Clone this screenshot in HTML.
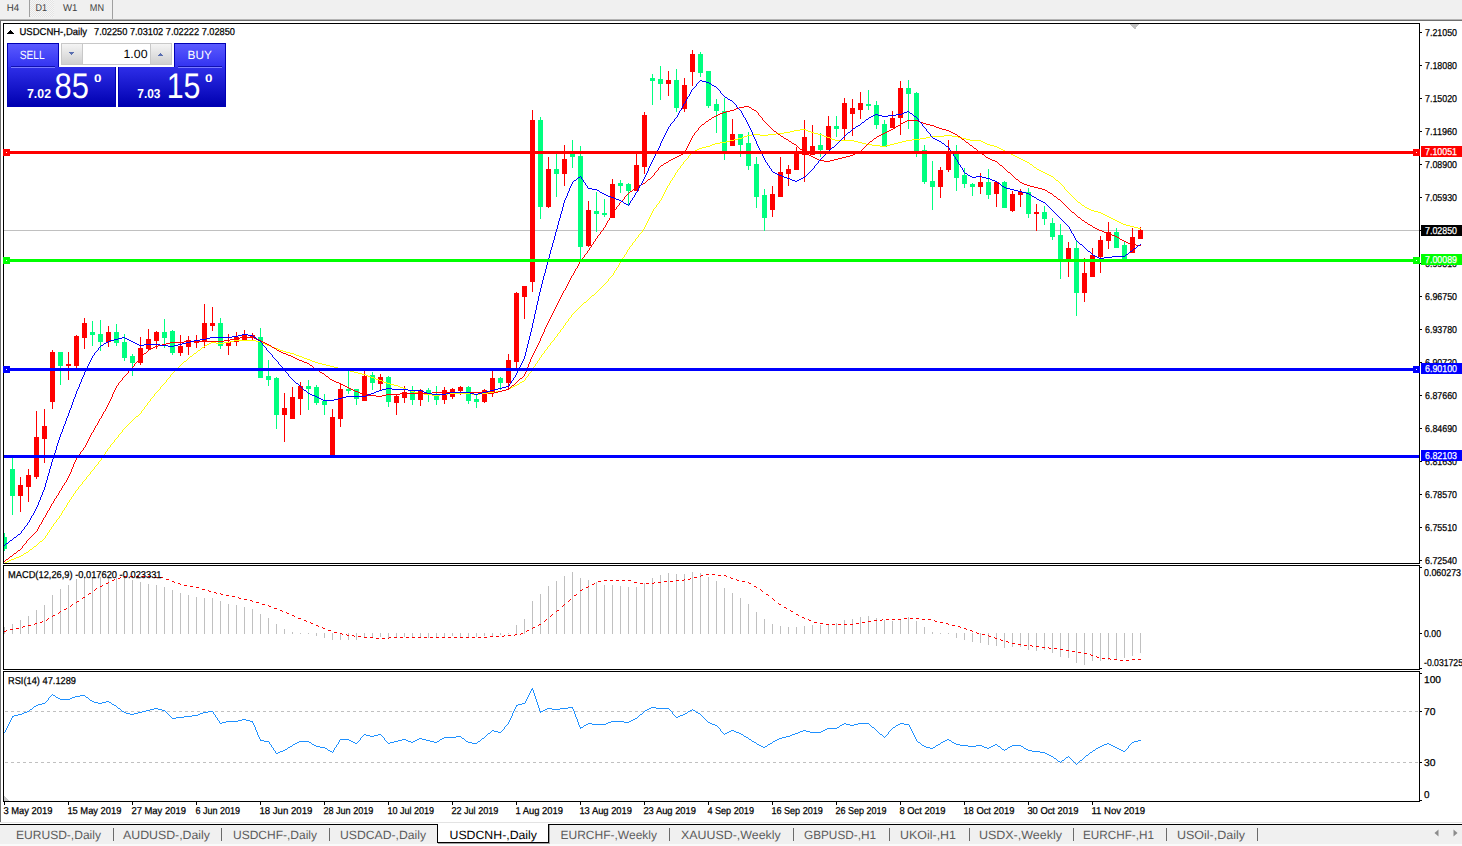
<!DOCTYPE html>
<html><head><meta charset="utf-8"><style>
html,body{margin:0;padding:0;background:#fff;}
svg{display:block;font-family:"Liberation Sans",sans-serif;text-rendering:geometricPrecision;}
</style></head><body>
<svg width="1462" height="846" viewBox="0 0 1462 846" shape-rendering="crispEdges">
<rect x="0" y="0" width="1462" height="846" fill="#ffffff" />
<rect x="0" y="0" width="1462" height="19" fill="#f0f0f0" />
<rect x="0" y="19" width="1462" height="1" fill="#b4b4b4" />
<rect x="0" y="20" width="1462" height="1" fill="#6e6e6e" />
<defs><pattern id="hatch" width="2" height="2" patternUnits="userSpaceOnUse"><rect width="2" height="2" fill="#f6f6f6"/><rect width="1" height="1" fill="#e4e4e4"/><rect x="1" y="1" width="1" height="1" fill="#e4e4e4"/></pattern></defs>
<rect x="30" y="0" width="24" height="17" fill="url(#hatch)" />
<rect x="29" y="0" width="1" height="17" fill="#a0a0a0" />
<rect x="112" y="0" width="1" height="19" fill="#a0a0a0" />
<text x="6.7" y="11" font-size="10" fill="#404040" textLength="12.4" lengthAdjust="spacingAndGlyphs" >H4</text>
<text x="35.6" y="11" font-size="10" fill="#404040" textLength="11.5" lengthAdjust="spacingAndGlyphs" >D1</text>
<text x="63" y="11" font-size="10" fill="#404040" textLength="14.4" lengthAdjust="spacingAndGlyphs" >W1</text>
<text x="89.8" y="11" font-size="10" fill="#404040" textLength="14.2" lengthAdjust="spacingAndGlyphs" >MN</text>
<rect x="0" y="21" width="1" height="801" fill="#6e6e6e" />
<rect x="3" y="23" width="1417" height="1" fill="#000" />
<rect x="3" y="563" width="1417" height="1" fill="#000" />
<rect x="3" y="23" width="1" height="541" fill="#000" />
<rect x="1419" y="23" width="1" height="541" fill="#000" />
<rect x="3" y="565" width="1417" height="1" fill="#000" />
<rect x="3" y="669" width="1417" height="1" fill="#000" />
<rect x="3" y="565" width="1" height="105" fill="#000" />
<rect x="1419" y="565" width="1" height="105" fill="#000" />
<rect x="3" y="671" width="1417" height="1" fill="#000" />
<rect x="3" y="801" width="1417" height="1" fill="#000" />
<rect x="3" y="671" width="1" height="131" fill="#000" />
<rect x="1419" y="671" width="1" height="131" fill="#000" />
<clipPath id="cmain"><rect x="4" y="24" width="1415" height="539"/></clipPath>
<clipPath id="cmacd"><rect x="4" y="566" width="1415" height="103"/></clipPath>
<clipPath id="crsi"><rect x="4" y="672" width="1415" height="129"/></clipPath>
<g clip-path="url(#cmain)">
<rect x="4" y="230" width="1415" height="1" fill="#c0c0c0" />
<rect x="4" y="533" width="1" height="18" fill="#00ff7f" />
<rect x="2" y="537" width="5" height="12" fill="#00ff7f" />
<rect x="12" y="458" width="1" height="57" fill="#00ff7f" />
<rect x="10" y="469" width="5" height="27" fill="#00ff7f" />
<rect x="20" y="477" width="1" height="35" fill="#ff0000" />
<rect x="18" y="485" width="5" height="11" fill="#ff0000" />
<rect x="28" y="469" width="1" height="33" fill="#ff0000" />
<rect x="26" y="475" width="5" height="12" fill="#ff0000" />
<rect x="36" y="411" width="1" height="68" fill="#ff0000" />
<rect x="34" y="437" width="5" height="40" fill="#ff0000" />
<rect x="44" y="409" width="1" height="54" fill="#ff0000" />
<rect x="42" y="426" width="5" height="13" fill="#ff0000" />
<rect x="52" y="350" width="1" height="59" fill="#ff0000" />
<rect x="50" y="352" width="5" height="50" fill="#ff0000" />
<rect x="60" y="352" width="1" height="33" fill="#00ff7f" />
<rect x="58" y="352" width="5" height="14" fill="#00ff7f" />
<rect x="68" y="352" width="1" height="28" fill="#ff0000" />
<rect x="66" y="364" width="5" height="2" fill="#ff0000" />
<rect x="76" y="335" width="1" height="33" fill="#ff0000" />
<rect x="74" y="336" width="5" height="30" fill="#ff0000" />
<rect x="84" y="318" width="1" height="31" fill="#ff0000" />
<rect x="82" y="323" width="5" height="15" fill="#ff0000" />
<rect x="92" y="321" width="1" height="25" fill="#00ff7f" />
<rect x="90" y="332" width="5" height="3" fill="#00ff7f" />
<rect x="100" y="320" width="1" height="31" fill="#00ff7f" />
<rect x="98" y="334" width="5" height="8" fill="#00ff7f" />
<rect x="108" y="326" width="1" height="21" fill="#ff0000" />
<rect x="106" y="332" width="5" height="10" fill="#ff0000" />
<rect x="116" y="324" width="1" height="22" fill="#00ff7f" />
<rect x="114" y="332" width="5" height="11" fill="#00ff7f" />
<rect x="124" y="334" width="1" height="27" fill="#00ff7f" />
<rect x="122" y="342" width="5" height="16" fill="#00ff7f" />
<rect x="132" y="354" width="1" height="22" fill="#00ff7f" />
<rect x="130" y="356" width="5" height="7" fill="#00ff7f" />
<rect x="140" y="337" width="1" height="28" fill="#ff0000" />
<rect x="138" y="348" width="5" height="15" fill="#ff0000" />
<rect x="148" y="329" width="1" height="21" fill="#ff0000" />
<rect x="146" y="339" width="5" height="10" fill="#ff0000" />
<rect x="156" y="331" width="1" height="18" fill="#ff0000" />
<rect x="154" y="332" width="5" height="9" fill="#ff0000" />
<rect x="164" y="319" width="1" height="29" fill="#00ff7f" />
<rect x="162" y="332" width="5" height="6" fill="#00ff7f" />
<rect x="172" y="330" width="1" height="25" fill="#00ff7f" />
<rect x="170" y="331" width="5" height="22" fill="#00ff7f" />
<rect x="180" y="335" width="1" height="21" fill="#ff0000" />
<rect x="178" y="346" width="5" height="7" fill="#ff0000" />
<rect x="188" y="336" width="1" height="19" fill="#ff0000" />
<rect x="186" y="340" width="5" height="7" fill="#ff0000" />
<rect x="196" y="335" width="1" height="13" fill="#ff0000" />
<rect x="194" y="340" width="5" height="3" fill="#ff0000" />
<rect x="204" y="304" width="1" height="44" fill="#ff0000" />
<rect x="202" y="323" width="5" height="18" fill="#ff0000" />
<rect x="212" y="307" width="1" height="24" fill="#ff0000" />
<rect x="210" y="323" width="5" height="3" fill="#ff0000" />
<rect x="220" y="318" width="1" height="31" fill="#00ff7f" />
<rect x="218" y="323" width="5" height="23" fill="#00ff7f" />
<rect x="228" y="334" width="1" height="21" fill="#ff0000" />
<rect x="226" y="342" width="5" height="4" fill="#ff0000" />
<rect x="236" y="332" width="1" height="14" fill="#ff0000" />
<rect x="234" y="337" width="5" height="5" fill="#ff0000" />
<rect x="244" y="330" width="1" height="11" fill="#ff0000" />
<rect x="242" y="334" width="5" height="6" fill="#ff0000" />
<rect x="252" y="333" width="1" height="8" fill="#ff0000" />
<rect x="250" y="335" width="5" height="3" fill="#ff0000" />
<rect x="260" y="328" width="1" height="50" fill="#00ff7f" />
<rect x="258" y="337" width="5" height="41" fill="#00ff7f" />
<rect x="268" y="360" width="1" height="26" fill="#00ff7f" />
<rect x="266" y="376" width="5" height="4" fill="#00ff7f" />
<rect x="276" y="377" width="1" height="52" fill="#00ff7f" />
<rect x="274" y="378" width="5" height="37" fill="#00ff7f" />
<rect x="284" y="393" width="1" height="49" fill="#ff0000" />
<rect x="282" y="408" width="5" height="7" fill="#ff0000" />
<rect x="292" y="387" width="1" height="32" fill="#ff0000" />
<rect x="290" y="397" width="5" height="22" fill="#ff0000" />
<rect x="300" y="382" width="1" height="33" fill="#ff0000" />
<rect x="298" y="386" width="5" height="13" fill="#ff0000" />
<rect x="308" y="380" width="1" height="30" fill="#00ff7f" />
<rect x="306" y="386" width="5" height="3" fill="#00ff7f" />
<rect x="316" y="385" width="1" height="20" fill="#00ff7f" />
<rect x="314" y="387" width="5" height="16" fill="#00ff7f" />
<rect x="324" y="394" width="1" height="21" fill="#00ff7f" />
<rect x="322" y="401" width="5" height="4" fill="#00ff7f" />
<rect x="332" y="409" width="1" height="47" fill="#ff0000" />
<rect x="330" y="417" width="5" height="39" fill="#ff0000" />
<rect x="340" y="384" width="1" height="43" fill="#ff0000" />
<rect x="338" y="389" width="5" height="30" fill="#ff0000" />
<rect x="348" y="371" width="1" height="23" fill="#00ff7f" />
<rect x="346" y="389" width="5" height="2" fill="#00ff7f" />
<rect x="356" y="389" width="1" height="16" fill="#00ff7f" />
<rect x="354" y="389" width="5" height="10" fill="#00ff7f" />
<rect x="364" y="371" width="1" height="30" fill="#ff0000" />
<rect x="362" y="376" width="5" height="25" fill="#ff0000" />
<rect x="372" y="372" width="1" height="18" fill="#00ff7f" />
<rect x="370" y="375" width="5" height="8" fill="#00ff7f" />
<rect x="380" y="374" width="1" height="17" fill="#ff0000" />
<rect x="378" y="377" width="5" height="7" fill="#ff0000" />
<rect x="388" y="376" width="1" height="31" fill="#00ff7f" />
<rect x="386" y="377" width="5" height="25" fill="#00ff7f" />
<rect x="396" y="395" width="1" height="20" fill="#ff0000" />
<rect x="394" y="396" width="5" height="7" fill="#ff0000" />
<rect x="404" y="386" width="1" height="17" fill="#ff0000" />
<rect x="402" y="392" width="5" height="6" fill="#ff0000" />
<rect x="412" y="386" width="1" height="19" fill="#00ff7f" />
<rect x="410" y="391" width="5" height="9" fill="#00ff7f" />
<rect x="420" y="389" width="1" height="17" fill="#ff0000" />
<rect x="418" y="390" width="5" height="10" fill="#ff0000" />
<rect x="428" y="388" width="1" height="14" fill="#00ff7f" />
<rect x="426" y="390" width="5" height="5" fill="#00ff7f" />
<rect x="436" y="386" width="1" height="19" fill="#00ff7f" />
<rect x="434" y="394" width="5" height="6" fill="#00ff7f" />
<rect x="444" y="387" width="1" height="17" fill="#ff0000" />
<rect x="442" y="390" width="5" height="10" fill="#ff0000" />
<rect x="452" y="388" width="1" height="11" fill="#ff0000" />
<rect x="450" y="389" width="5" height="8" fill="#ff0000" />
<rect x="460" y="386" width="1" height="9" fill="#ff0000" />
<rect x="458" y="387" width="5" height="4" fill="#ff0000" />
<rect x="468" y="386" width="1" height="18" fill="#00ff7f" />
<rect x="466" y="387" width="5" height="14" fill="#00ff7f" />
<rect x="476" y="395" width="1" height="13" fill="#00ff7f" />
<rect x="474" y="399" width="5" height="3" fill="#00ff7f" />
<rect x="484" y="389" width="1" height="14" fill="#ff0000" />
<rect x="482" y="390" width="5" height="12" fill="#ff0000" />
<rect x="492" y="371" width="1" height="26" fill="#ff0000" />
<rect x="490" y="378" width="5" height="15" fill="#ff0000" />
<rect x="500" y="377" width="1" height="13" fill="#00ff7f" />
<rect x="498" y="378" width="5" height="5" fill="#00ff7f" />
<rect x="508" y="354" width="1" height="35" fill="#ff0000" />
<rect x="506" y="360" width="5" height="23" fill="#ff0000" />
<rect x="516" y="292" width="1" height="78" fill="#ff0000" />
<rect x="514" y="293" width="5" height="69" fill="#ff0000" />
<rect x="524" y="286" width="1" height="33" fill="#ff0000" />
<rect x="522" y="286" width="5" height="11" fill="#ff0000" />
<rect x="532" y="110" width="1" height="182" fill="#ff0000" />
<rect x="530" y="120" width="5" height="162" fill="#ff0000" />
<rect x="540" y="117" width="1" height="102" fill="#00ff7f" />
<rect x="538" y="120" width="5" height="87" fill="#00ff7f" />
<rect x="548" y="157" width="1" height="51" fill="#ff0000" />
<rect x="546" y="169" width="5" height="38" fill="#ff0000" />
<rect x="556" y="154" width="1" height="43" fill="#00ff7f" />
<rect x="554" y="169" width="5" height="5" fill="#00ff7f" />
<rect x="564" y="145" width="1" height="41" fill="#ff0000" />
<rect x="562" y="159" width="5" height="15" fill="#ff0000" />
<rect x="572" y="140" width="1" height="28" fill="#00ff7f" />
<rect x="570" y="154" width="5" height="3" fill="#00ff7f" />
<rect x="580" y="146" width="1" height="114" fill="#00ff7f" />
<rect x="578" y="156" width="5" height="91" fill="#00ff7f" />
<rect x="588" y="201" width="1" height="46" fill="#ff0000" />
<rect x="586" y="210" width="5" height="36" fill="#ff0000" />
<rect x="596" y="192" width="1" height="40" fill="#00ff7f" />
<rect x="594" y="211" width="5" height="3" fill="#00ff7f" />
<rect x="604" y="199" width="1" height="18" fill="#00ff7f" />
<rect x="602" y="213" width="5" height="2" fill="#00ff7f" />
<rect x="612" y="179" width="1" height="39" fill="#ff0000" />
<rect x="610" y="184" width="5" height="34" fill="#ff0000" />
<rect x="620" y="180" width="1" height="13" fill="#00ff7f" />
<rect x="618" y="183" width="5" height="3" fill="#00ff7f" />
<rect x="628" y="183" width="1" height="23" fill="#00ff7f" />
<rect x="626" y="184" width="5" height="7" fill="#00ff7f" />
<rect x="636" y="154" width="1" height="37" fill="#ff0000" />
<rect x="634" y="165" width="5" height="26" fill="#ff0000" />
<rect x="644" y="112" width="1" height="62" fill="#ff0000" />
<rect x="642" y="115" width="5" height="52" fill="#ff0000" />
<rect x="652" y="74" width="1" height="31" fill="#00ff7f" />
<rect x="650" y="78" width="5" height="3" fill="#00ff7f" />
<rect x="660" y="66" width="1" height="34" fill="#00ff7f" />
<rect x="658" y="79" width="5" height="5" fill="#00ff7f" />
<rect x="668" y="71" width="1" height="25" fill="#ff0000" />
<rect x="666" y="80" width="5" height="4" fill="#ff0000" />
<rect x="676" y="69" width="1" height="43" fill="#00ff7f" />
<rect x="674" y="80" width="5" height="28" fill="#00ff7f" />
<rect x="684" y="78" width="1" height="34" fill="#ff0000" />
<rect x="682" y="85" width="5" height="24" fill="#ff0000" />
<rect x="692" y="50" width="1" height="36" fill="#ff0000" />
<rect x="690" y="54" width="5" height="18" fill="#ff0000" />
<rect x="700" y="52" width="1" height="25" fill="#00ff7f" />
<rect x="698" y="54" width="5" height="19" fill="#00ff7f" />
<rect x="708" y="71" width="1" height="37" fill="#00ff7f" />
<rect x="706" y="71" width="5" height="35" fill="#00ff7f" />
<rect x="716" y="99" width="1" height="34" fill="#00ff7f" />
<rect x="714" y="104" width="5" height="7" fill="#00ff7f" />
<rect x="724" y="98" width="1" height="62" fill="#00ff7f" />
<rect x="722" y="111" width="5" height="41" fill="#00ff7f" />
<rect x="732" y="119" width="1" height="27" fill="#ff0000" />
<rect x="730" y="134" width="5" height="12" fill="#ff0000" />
<rect x="740" y="134" width="1" height="23" fill="#00ff7f" />
<rect x="738" y="134" width="5" height="11" fill="#00ff7f" />
<rect x="748" y="132" width="1" height="38" fill="#00ff7f" />
<rect x="746" y="143" width="5" height="23" fill="#00ff7f" />
<rect x="756" y="157" width="1" height="51" fill="#00ff7f" />
<rect x="754" y="164" width="5" height="33" fill="#00ff7f" />
<rect x="764" y="189" width="1" height="42" fill="#00ff7f" />
<rect x="762" y="195" width="5" height="23" fill="#00ff7f" />
<rect x="772" y="186" width="1" height="31" fill="#ff0000" />
<rect x="770" y="194" width="5" height="16" fill="#ff0000" />
<rect x="780" y="157" width="1" height="40" fill="#ff0000" />
<rect x="778" y="172" width="5" height="25" fill="#ff0000" />
<rect x="788" y="165" width="1" height="21" fill="#ff0000" />
<rect x="786" y="169" width="5" height="5" fill="#ff0000" />
<rect x="796" y="147" width="1" height="23" fill="#ff0000" />
<rect x="794" y="153" width="5" height="17" fill="#ff0000" />
<rect x="804" y="120" width="1" height="62" fill="#ff0000" />
<rect x="802" y="137" width="5" height="18" fill="#ff0000" />
<rect x="812" y="125" width="1" height="30" fill="#ff0000" />
<rect x="810" y="146" width="5" height="9" fill="#ff0000" />
<rect x="820" y="133" width="1" height="24" fill="#00ff7f" />
<rect x="818" y="145" width="5" height="5" fill="#00ff7f" />
<rect x="828" y="116" width="1" height="34" fill="#ff0000" />
<rect x="826" y="126" width="5" height="24" fill="#ff0000" />
<rect x="836" y="116" width="1" height="21" fill="#00ff7f" />
<rect x="834" y="126" width="5" height="3" fill="#00ff7f" />
<rect x="844" y="98" width="1" height="43" fill="#ff0000" />
<rect x="842" y="103" width="5" height="26" fill="#ff0000" />
<rect x="852" y="99" width="1" height="37" fill="#ff0000" />
<rect x="850" y="108" width="5" height="6" fill="#ff0000" />
<rect x="860" y="92" width="1" height="27" fill="#ff0000" />
<rect x="858" y="103" width="5" height="7" fill="#ff0000" />
<rect x="868" y="90" width="1" height="20" fill="#00ff7f" />
<rect x="866" y="104" width="5" height="2" fill="#00ff7f" />
<rect x="876" y="101" width="1" height="28" fill="#00ff7f" />
<rect x="874" y="105" width="5" height="20" fill="#00ff7f" />
<rect x="884" y="120" width="1" height="27" fill="#00ff7f" />
<rect x="882" y="124" width="5" height="23" fill="#00ff7f" />
<rect x="892" y="111" width="1" height="17" fill="#ff0000" />
<rect x="890" y="118" width="5" height="10" fill="#ff0000" />
<rect x="900" y="81" width="1" height="54" fill="#ff0000" />
<rect x="898" y="88" width="5" height="30" fill="#ff0000" />
<rect x="908" y="80" width="1" height="49" fill="#00ff7f" />
<rect x="906" y="88" width="5" height="6" fill="#00ff7f" />
<rect x="916" y="92" width="1" height="65" fill="#00ff7f" />
<rect x="914" y="93" width="5" height="58" fill="#00ff7f" />
<rect x="924" y="145" width="1" height="39" fill="#00ff7f" />
<rect x="922" y="150" width="5" height="32" fill="#00ff7f" />
<rect x="932" y="161" width="1" height="49" fill="#00ff7f" />
<rect x="930" y="181" width="5" height="6" fill="#00ff7f" />
<rect x="940" y="167" width="1" height="31" fill="#ff0000" />
<rect x="938" y="170" width="5" height="17" fill="#ff0000" />
<rect x="948" y="140" width="1" height="32" fill="#ff0000" />
<rect x="946" y="152" width="5" height="18" fill="#ff0000" />
<rect x="956" y="145" width="1" height="46" fill="#00ff7f" />
<rect x="954" y="152" width="5" height="26" fill="#00ff7f" />
<rect x="964" y="168" width="1" height="20" fill="#00ff7f" />
<rect x="962" y="175" width="5" height="9" fill="#00ff7f" />
<rect x="972" y="183" width="1" height="13" fill="#00ff7f" />
<rect x="970" y="184" width="5" height="3" fill="#00ff7f" />
<rect x="980" y="173" width="1" height="21" fill="#ff0000" />
<rect x="978" y="182" width="5" height="5" fill="#ff0000" />
<rect x="988" y="169" width="1" height="30" fill="#00ff7f" />
<rect x="986" y="182" width="5" height="13" fill="#00ff7f" />
<rect x="996" y="181" width="1" height="26" fill="#ff0000" />
<rect x="994" y="182" width="5" height="12" fill="#ff0000" />
<rect x="1004" y="181" width="1" height="27" fill="#00ff7f" />
<rect x="1002" y="182" width="5" height="26" fill="#00ff7f" />
<rect x="1012" y="191" width="1" height="21" fill="#ff0000" />
<rect x="1010" y="194" width="5" height="17" fill="#ff0000" />
<rect x="1020" y="189" width="1" height="18" fill="#ff0000" />
<rect x="1018" y="192" width="5" height="3" fill="#ff0000" />
<rect x="1028" y="188" width="1" height="30" fill="#00ff7f" />
<rect x="1026" y="192" width="5" height="22" fill="#00ff7f" />
<rect x="1036" y="204" width="1" height="27" fill="#ff0000" />
<rect x="1034" y="212" width="5" height="2" fill="#ff0000" />
<rect x="1044" y="206" width="1" height="19" fill="#00ff7f" />
<rect x="1042" y="212" width="5" height="7" fill="#00ff7f" />
<rect x="1052" y="218" width="1" height="22" fill="#00ff7f" />
<rect x="1050" y="223" width="5" height="14" fill="#00ff7f" />
<rect x="1060" y="224" width="1" height="55" fill="#00ff7f" />
<rect x="1058" y="235" width="5" height="25" fill="#00ff7f" />
<rect x="1068" y="242" width="1" height="35" fill="#ff0000" />
<rect x="1066" y="248" width="5" height="12" fill="#ff0000" />
<rect x="1076" y="241" width="1" height="75" fill="#00ff7f" />
<rect x="1074" y="248" width="5" height="45" fill="#00ff7f" />
<rect x="1084" y="258" width="1" height="44" fill="#ff0000" />
<rect x="1082" y="273" width="5" height="20" fill="#ff0000" />
<rect x="1092" y="248" width="1" height="29" fill="#ff0000" />
<rect x="1090" y="255" width="5" height="22" fill="#ff0000" />
<rect x="1100" y="236" width="1" height="37" fill="#ff0000" />
<rect x="1098" y="240" width="5" height="17" fill="#ff0000" />
<rect x="1108" y="222" width="1" height="27" fill="#ff0000" />
<rect x="1106" y="232" width="5" height="9" fill="#ff0000" />
<rect x="1116" y="228" width="1" height="20" fill="#00ff7f" />
<rect x="1114" y="232" width="5" height="16" fill="#00ff7f" />
<rect x="1124" y="242" width="1" height="18" fill="#00ff7f" />
<rect x="1122" y="245" width="5" height="15" fill="#00ff7f" />
<rect x="1132" y="228" width="1" height="25" fill="#ff0000" />
<rect x="1130" y="237" width="5" height="16" fill="#ff0000" />
<rect x="1140" y="227" width="1" height="12" fill="#ff0000" />
<rect x="1138" y="230" width="5" height="9" fill="#ff0000" />
<path d="M800 129h6v1h-6zM794 130h6v1h-6zM806 130h2v1h-2zM790 131h4v1h-4zM808 131h3v1h-3zM784 132h6v1h-6zM811 132h3v1h-3zM776 133h8v1h-8zM814 133h4v1h-4zM752 134h8v1h-8zM768 134h8v1h-8zM818 134h4v1h-4zM747 135h5v1h-5zM760 135h8v1h-8zM822 135h2v1h-2zM944 135h8v1h-8zM744 136h3v1h-3zM824 136h3v1h-3zM930 136h14v1h-14zM952 136h6v1h-6zM742 137h2v1h-2zM827 137h3v1h-3zM926 137h4v1h-4zM958 137h4v1h-4zM738 138h4v1h-4zM830 138h2v1h-2zM920 138h6v1h-6zM962 138h4v1h-4zM734 139h4v1h-4zM832 139h3v1h-3zM912 139h8v1h-8zM966 139h4v1h-4zM730 140h4v1h-4zM835 140h19v1h-19zM906 140h6v1h-6zM970 140h11v1h-11zM726 141h4v1h-4zM854 141h4v1h-4zM902 141h4v1h-4zM981 141h2v1h-2zM720 142h6v1h-6zM858 142h4v1h-4zM898 142h4v1h-4zM983 142h2v1h-2zM715 143h5v1h-5zM862 143h4v1h-4zM894 143h4v1h-4zM985 143h2v1h-2zM712 144h3v1h-3zM866 144h6v1h-6zM890 144h4v1h-4zM987 144h3v1h-3zM710 145h2v1h-2zM872 145h8v1h-8zM886 145h4v1h-4zM990 145h4v1h-4zM706 146h4v1h-4zM880 146h6v1h-6zM994 146h3v1h-3zM702 147h4v1h-4zM997 147h2v1h-2zM699 148h3v1h-3zM999 148h2v1h-2zM697 149h2v1h-2zM1001 149h2v1h-2zM695 150h2v1h-2zM1003 150h2v1h-2zM693 151h2v1h-2zM1005 151h2v1h-2zM692 152h1v1h-1zM1007 152h2v1h-2zM691 153h1v1h-1zM1009 153h2v1h-2zM690 154h1v1h-1zM1011 154h2v1h-2zM689 155h1v1h-1zM1013 155h2v1h-2zM688 156h1v1h-1zM1015 156h2v1h-2zM688 157h1v1h-1zM1017 157h2v1h-2zM687 158h1v1h-1zM1019 158h2v1h-2zM686 159h1v1h-1zM1021 159h2v1h-2zM685 160h1v1h-1zM1023 160h2v1h-2zM684 161h1v1h-1zM1025 161h2v1h-2zM683 162h1v1h-1zM1027 162h2v1h-2zM683 163h1v1h-1zM1029 163h1v1h-1zM682 164h1v1h-1zM1030 164h2v1h-2zM681 165h1v1h-1zM1032 165h1v1h-1zM680 166h1v1h-1zM1033 166h1v1h-1zM680 167h1v1h-1zM1034 167h2v1h-2zM679 168h1v1h-1zM1036 168h1v1h-1zM678 169h1v1h-1zM1037 169h2v1h-2zM677 170h1v1h-1zM1039 170h2v1h-2zM677 171h1v1h-1zM1041 171h2v1h-2zM676 172h1v1h-1zM1043 172h2v1h-2zM675 173h1v1h-1zM1045 173h2v1h-2zM675 174h1v1h-1zM1047 174h2v1h-2zM674 175h1v1h-1zM1049 175h2v1h-2zM674 176h1v1h-1zM1051 176h2v1h-2zM673 177h1v1h-1zM1053 177h1v1h-1zM672 178h1v1h-1zM1054 178h1v1h-1zM672 179h1v1h-1zM1055 179h1v1h-1zM671 180h1v1h-1zM1056 180h2v1h-2zM670 181h1v1h-1zM1058 181h1v1h-1zM670 182h1v1h-1zM1059 182h1v1h-1zM669 183h1v1h-1zM1060 183h1v1h-1zM669 184h1v1h-1zM1061 184h1v1h-1zM668 185h1v1h-1zM1062 185h1v1h-1zM667 186h1v1h-1zM1063 186h1v1h-1zM667 187h1v1h-1zM1064 187h1v1h-1zM666 188h1v1h-1zM1064 188h1v1h-1zM666 189h1v1h-1zM1065 189h1v1h-1zM665 190h1v1h-1zM1066 190h1v1h-1zM665 191h1v1h-1zM1067 191h1v1h-1zM664 192h1v1h-1zM1068 192h1v1h-1zM664 193h1v1h-1zM1069 193h1v1h-1zM663 194h1v1h-1zM1070 194h1v1h-1zM663 195h1v1h-1zM1071 195h1v1h-1zM662 196h1v1h-1zM1072 196h1v1h-1zM662 197h1v1h-1zM1073 197h1v1h-1zM661 198h1v1h-1zM1074 198h1v1h-1zM661 199h1v1h-1zM1075 199h1v1h-1zM660 200h1v1h-1zM1076 200h1v1h-1zM659 201h1v1h-1zM1077 201h1v1h-1zM659 202h1v1h-1zM1078 202h2v1h-2zM658 203h1v1h-1zM1080 203h1v1h-1zM657 204h1v1h-1zM1081 204h1v1h-1zM656 205h1v1h-1zM1082 205h2v1h-2zM656 206h1v1h-1zM1084 206h1v1h-1zM655 207h1v1h-1zM1085 207h2v1h-2zM654 208h1v1h-1zM1087 208h2v1h-2zM653 209h1v1h-1zM1089 209h2v1h-2zM653 210h1v1h-1zM1091 210h3v1h-3zM652 211h1v1h-1zM1094 211h4v1h-4zM652 212h1v1h-1zM1098 212h3v1h-3zM651 213h1v1h-1zM1101 213h2v1h-2zM651 214h1v1h-1zM1103 214h2v1h-2zM650 215h1v1h-1zM1105 215h2v1h-2zM650 216h1v1h-1zM1107 216h2v1h-2zM649 217h1v1h-1zM1109 217h2v1h-2zM649 218h1v1h-1zM1111 218h2v1h-2zM648 219h1v1h-1zM1113 219h2v1h-2zM648 220h1v1h-1zM1115 220h2v1h-2zM647 221h1v1h-1zM1117 221h2v1h-2zM647 222h1v1h-1zM1119 222h2v1h-2zM646 223h1v1h-1zM1121 223h2v1h-2zM646 224h1v1h-1zM1123 224h3v1h-3zM645 225h1v1h-1zM1126 225h4v1h-4zM645 226h1v1h-1zM1130 226h4v1h-4zM644 227h1v1h-1zM1134 227h4v1h-4zM644 228h1v1h-1zM1138 228h3v1h-3zM643 229h1v1h-1zM642 230h1v1h-1zM642 231h1v1h-1zM641 232h1v1h-1zM640 233h1v1h-1zM639 234h1v1h-1zM638 235h1v1h-1zM638 236h1v1h-1zM637 237h1v1h-1zM636 238h1v1h-1zM635 239h1v1h-1zM635 240h1v1h-1zM634 241h1v1h-1zM633 242h1v1h-1zM632 243h1v1h-1zM632 244h1v1h-1zM631 245h1v1h-1zM630 246h1v1h-1zM629 247h1v1h-1zM629 248h1v1h-1zM628 249h1v1h-1zM627 250h1v1h-1zM627 251h1v1h-1zM626 252h1v1h-1zM626 253h1v1h-1zM625 254h1v1h-1zM624 255h1v1h-1zM624 256h1v1h-1zM623 257h1v1h-1zM622 258h1v1h-1zM622 259h1v1h-1zM621 260h1v1h-1zM621 261h1v1h-1zM620 262h1v1h-1zM619 263h1v1h-1zM619 264h1v1h-1zM618 265h1v1h-1zM618 266h1v1h-1zM617 267h1v1h-1zM616 268h1v1h-1zM616 269h1v1h-1zM615 270h1v1h-1zM614 271h1v1h-1zM614 272h1v1h-1zM613 273h1v1h-1zM613 274h1v1h-1zM612 275h1v1h-1zM611 276h1v1h-1zM610 277h1v1h-1zM609 278h1v1h-1zM608 279h1v1h-1zM608 280h1v1h-1zM607 281h1v1h-1zM606 282h1v1h-1zM605 283h1v1h-1zM604 284h1v1h-1zM603 285h1v1h-1zM602 286h1v1h-1zM601 287h1v1h-1zM600 288h1v1h-1zM599 289h1v1h-1zM598 290h1v1h-1zM597 291h1v1h-1zM596 292h1v1h-1zM595 293h1v1h-1zM594 294h1v1h-1zM592 295h2v1h-2zM591 296h1v1h-1zM590 297h1v1h-1zM589 298h1v1h-1zM588 299h1v1h-1zM587 300h1v1h-1zM586 301h1v1h-1zM584 302h2v1h-2zM583 303h1v1h-1zM582 304h1v1h-1zM581 305h1v1h-1zM580 306h1v1h-1zM579 307h1v1h-1zM578 308h1v1h-1zM577 309h1v1h-1zM576 310h1v1h-1zM575 311h1v1h-1zM574 312h1v1h-1zM573 313h1v1h-1zM572 314h1v1h-1zM571 315h1v1h-1zM571 316h1v1h-1zM570 317h1v1h-1zM569 318h1v1h-1zM568 319h1v1h-1zM568 320h1v1h-1zM567 321h1v1h-1zM566 322h1v1h-1zM565 323h1v1h-1zM565 324h1v1h-1zM564 325h1v1h-1zM563 326h1v1h-1zM563 327h1v1h-1zM562 328h1v1h-1zM561 329h1v1h-1zM560 330h1v1h-1zM560 331h1v1h-1zM559 332h1v1h-1zM558 333h1v1h-1zM557 334h1v1h-1zM557 335h1v1h-1zM556 336h1v1h-1zM555 337h1v1h-1zM554 338h1v1h-1zM554 339h1v1h-1zM234 340h22v1h-22zM553 340h1v1h-1zM230 341h4v1h-4zM256 341h5v1h-5zM552 341h1v1h-1zM211 342h5v1h-5zM224 342h6v1h-6zM261 342h2v1h-2zM551 342h1v1h-1zM209 343h2v1h-2zM216 343h8v1h-8zM263 343h2v1h-2zM550 343h1v1h-1zM207 344h2v1h-2zM265 344h2v1h-2zM550 344h1v1h-1zM205 345h2v1h-2zM267 345h3v1h-3zM549 345h1v1h-1zM204 346h1v1h-1zM270 346h2v1h-2zM548 346h1v1h-1zM202 347h2v1h-2zM272 347h3v1h-3zM547 347h1v1h-1zM201 348h1v1h-1zM275 348h3v1h-3zM547 348h1v1h-1zM200 349h1v1h-1zM278 349h2v1h-2zM546 349h1v1h-1zM198 350h2v1h-2zM280 350h3v1h-3zM545 350h1v1h-1zM197 351h1v1h-1zM283 351h3v1h-3zM544 351h1v1h-1zM196 352h1v1h-1zM286 352h4v1h-4zM544 352h1v1h-1zM194 353h2v1h-2zM290 353h4v1h-4zM543 353h1v1h-1zM193 354h1v1h-1zM294 354h2v1h-2zM542 354h1v1h-1zM192 355h1v1h-1zM296 355h3v1h-3zM541 355h1v1h-1zM190 356h2v1h-2zM299 356h3v1h-3zM541 356h1v1h-1zM189 357h1v1h-1zM302 357h2v1h-2zM540 357h1v1h-1zM188 358h1v1h-1zM304 358h3v1h-3zM539 358h1v1h-1zM187 359h1v1h-1zM307 359h3v1h-3zM539 359h1v1h-1zM186 360h1v1h-1zM310 360h2v1h-2zM538 360h1v1h-1zM184 361h2v1h-2zM312 361h3v1h-3zM537 361h1v1h-1zM183 362h1v1h-1zM315 362h3v1h-3zM537 362h1v1h-1zM182 363h1v1h-1zM318 363h4v1h-4zM536 363h1v1h-1zM181 364h1v1h-1zM322 364h4v1h-4zM535 364h1v1h-1zM180 365h1v1h-1zM326 365h4v1h-4zM535 365h1v1h-1zM179 366h1v1h-1zM330 366h4v1h-4zM534 366h1v1h-1zM178 367h1v1h-1zM334 367h4v1h-4zM533 367h1v1h-1zM177 368h1v1h-1zM338 368h4v1h-4zM533 368h1v1h-1zM176 369h1v1h-1zM342 369h4v1h-4zM532 369h1v1h-1zM175 370h1v1h-1zM346 370h4v1h-4zM531 370h1v1h-1zM174 371h1v1h-1zM350 371h4v1h-4zM531 371h1v1h-1zM173 372h1v1h-1zM354 372h4v1h-4zM530 372h1v1h-1zM172 373h1v1h-1zM358 373h4v1h-4zM529 373h1v1h-1zM171 374h1v1h-1zM362 374h4v1h-4zM528 374h1v1h-1zM170 375h1v1h-1zM366 375h2v1h-2zM528 375h1v1h-1zM170 376h1v1h-1zM368 376h3v1h-3zM527 376h1v1h-1zM169 377h1v1h-1zM371 377h3v1h-3zM526 377h1v1h-1zM168 378h1v1h-1zM374 378h2v1h-2zM525 378h1v1h-1zM167 379h1v1h-1zM376 379h3v1h-3zM525 379h1v1h-1zM166 380h1v1h-1zM379 380h3v1h-3zM524 380h1v1h-1zM166 381h1v1h-1zM382 381h2v1h-2zM522 381h2v1h-2zM165 382h1v1h-1zM384 382h3v1h-3zM520 382h2v1h-2zM164 383h1v1h-1zM387 383h3v1h-3zM519 383h1v1h-1zM163 384h1v1h-1zM390 384h4v1h-4zM517 384h2v1h-2zM162 385h1v1h-1zM394 385h4v1h-4zM515 385h2v1h-2zM161 386h1v1h-1zM398 386h2v1h-2zM513 386h2v1h-2zM160 387h1v1h-1zM400 387h3v1h-3zM511 387h2v1h-2zM160 388h1v1h-1zM403 388h3v1h-3zM509 388h2v1h-2zM159 389h1v1h-1zM406 389h2v1h-2zM506 389h3v1h-3zM158 390h1v1h-1zM408 390h3v1h-3zM502 390h4v1h-4zM157 391h1v1h-1zM411 391h3v1h-3zM496 391h6v1h-6zM156 392h1v1h-1zM414 392h4v1h-4zM488 392h8v1h-8zM155 393h1v1h-1zM418 393h6v1h-6zM448 393h24v1h-24zM480 393h8v1h-8zM154 394h1v1h-1zM424 394h8v1h-8zM440 394h8v1h-8zM472 394h8v1h-8zM154 395h1v1h-1zM432 395h8v1h-8zM153 396h1v1h-1zM152 397h1v1h-1zM151 398h1v1h-1zM150 399h1v1h-1zM150 400h1v1h-1zM149 401h1v1h-1zM148 402h1v1h-1zM147 403h1v1h-1zM147 404h1v1h-1zM146 405h1v1h-1zM145 406h1v1h-1zM144 407h1v1h-1zM144 408h1v1h-1zM143 409h1v1h-1zM142 410h1v1h-1zM141 411h1v1h-1zM141 412h1v1h-1zM140 413h1v1h-1zM139 414h1v1h-1zM138 415h1v1h-1zM136 416h2v1h-2zM135 417h1v1h-1zM134 418h1v1h-1zM133 419h1v1h-1zM132 420h1v1h-1zM131 421h1v1h-1zM130 422h1v1h-1zM129 423h1v1h-1zM128 424h1v1h-1zM127 425h1v1h-1zM126 426h1v1h-1zM125 427h1v1h-1zM124 428h1v1h-1zM123 429h1v1h-1zM122 430h1v1h-1zM122 431h1v1h-1zM121 432h1v1h-1zM120 433h1v1h-1zM119 434h1v1h-1zM118 435h1v1h-1zM118 436h1v1h-1zM117 437h1v1h-1zM116 438h1v1h-1zM115 439h1v1h-1zM114 440h1v1h-1zM114 441h1v1h-1zM113 442h1v1h-1zM112 443h1v1h-1zM111 444h1v1h-1zM110 445h1v1h-1zM110 446h1v1h-1zM109 447h1v1h-1zM108 448h1v1h-1zM107 449h1v1h-1zM107 450h1v1h-1zM106 451h1v1h-1zM105 452h1v1h-1zM105 453h1v1h-1zM104 454h1v1h-1zM103 455h1v1h-1zM103 456h1v1h-1zM102 457h1v1h-1zM101 458h1v1h-1zM101 459h1v1h-1zM100 460h1v1h-1zM99 461h1v1h-1zM98 462h1v1h-1zM98 463h1v1h-1zM97 464h1v1h-1zM96 465h1v1h-1zM95 466h1v1h-1zM94 467h1v1h-1zM94 468h1v1h-1zM93 469h1v1h-1zM92 470h1v1h-1zM91 471h1v1h-1zM90 472h1v1h-1zM90 473h1v1h-1zM89 474h1v1h-1zM88 475h1v1h-1zM87 476h1v1h-1zM86 477h1v1h-1zM86 478h1v1h-1zM85 479h1v1h-1zM84 480h1v1h-1zM83 481h1v1h-1zM82 482h1v1h-1zM82 483h1v1h-1zM81 484h1v1h-1zM80 485h1v1h-1zM79 486h1v1h-1zM78 487h1v1h-1zM78 488h1v1h-1zM77 489h1v1h-1zM76 490h1v1h-1zM75 491h1v1h-1zM75 492h1v1h-1zM74 493h1v1h-1zM73 494h1v1h-1zM73 495h1v1h-1zM72 496h1v1h-1zM71 497h1v1h-1zM71 498h1v1h-1zM70 499h1v1h-1zM69 500h1v1h-1zM69 501h1v1h-1zM68 502h1v1h-1zM67 503h1v1h-1zM67 504h1v1h-1zM66 505h1v1h-1zM66 506h1v1h-1zM65 507h1v1h-1zM64 508h1v1h-1zM64 509h1v1h-1zM63 510h1v1h-1zM62 511h1v1h-1zM62 512h1v1h-1zM61 513h1v1h-1zM61 514h1v1h-1zM60 515h1v1h-1zM59 516h1v1h-1zM59 517h1v1h-1zM58 518h1v1h-1zM57 519h1v1h-1zM56 520h1v1h-1zM56 521h1v1h-1zM55 522h1v1h-1zM54 523h1v1h-1zM53 524h1v1h-1zM53 525h1v1h-1zM52 526h1v1h-1zM51 527h1v1h-1zM51 528h1v1h-1zM50 529h1v1h-1zM49 530h1v1h-1zM49 531h1v1h-1zM48 532h1v1h-1zM47 533h1v1h-1zM47 534h1v1h-1zM46 535h1v1h-1zM45 536h1v1h-1zM45 537h1v1h-1zM44 538h1v1h-1zM43 539h1v1h-1zM42 540h1v1h-1zM40 541h2v1h-2zM39 542h1v1h-1zM38 543h1v1h-1zM37 544h1v1h-1zM36 545h1v1h-1zM34 546h2v1h-2zM33 547h1v1h-1zM32 548h1v1h-1zM30 549h2v1h-2zM29 550h1v1h-1zM28 551h1v1h-1zM26 552h2v1h-2zM24 553h2v1h-2zM23 554h1v1h-1zM21 555h2v1h-2zM19 556h2v1h-2zM16 557h3v1h-3zM14 558h2v1h-2zM11 559h3v1h-3zM9 560h2v1h-2zM7 561h2v1h-2zM5 562h2v1h-2zM4 563h1v1h-1z" fill="#ffff00"/>
<path d="M744 106h5v1h-5zM739 107h5v1h-5zM749 107h2v1h-2zM736 108h3v1h-3zM751 108h1v1h-1zM734 109h2v1h-2zM752 109h2v1h-2zM730 110h4v1h-4zM754 110h2v1h-2zM726 111h4v1h-4zM756 111h1v1h-1zM723 112h3v1h-3zM757 112h1v1h-1zM720 113h3v1h-3zM758 113h1v1h-1zM718 114h2v1h-2zM758 114h1v1h-1zM716 115h2v1h-2zM759 115h1v1h-1zM714 116h2v1h-2zM760 116h1v1h-1zM712 117h2v1h-2zM761 117h1v1h-1zM711 118h1v1h-1zM762 118h1v1h-1zM709 119h2v1h-2zM762 119h1v1h-1zM708 120h1v1h-1zM763 120h1v1h-1zM907 120h11v1h-11zM706 121h2v1h-2zM764 121h1v1h-1zM905 121h2v1h-2zM918 121h2v1h-2zM705 122h1v1h-1zM765 122h1v1h-1zM903 122h2v1h-2zM920 122h3v1h-3zM704 123h1v1h-1zM766 123h1v1h-1zM901 123h2v1h-2zM923 123h3v1h-3zM702 124h2v1h-2zM767 124h1v1h-1zM900 124h1v1h-1zM926 124h4v1h-4zM701 125h1v1h-1zM768 125h1v1h-1zM898 125h2v1h-2zM930 125h4v1h-4zM700 126h1v1h-1zM769 126h1v1h-1zM896 126h2v1h-2zM934 126h2v1h-2zM699 127h1v1h-1zM770 127h1v1h-1zM895 127h1v1h-1zM936 127h3v1h-3zM698 128h1v1h-1zM771 128h1v1h-1zM893 128h2v1h-2zM939 128h3v1h-3zM698 129h1v1h-1zM772 129h1v1h-1zM891 129h2v1h-2zM942 129h4v1h-4zM697 130h1v1h-1zM773 130h1v1h-1zM889 130h2v1h-2zM946 130h3v1h-3zM696 131h1v1h-1zM774 131h2v1h-2zM887 131h2v1h-2zM949 131h2v1h-2zM695 132h1v1h-1zM776 132h1v1h-1zM885 132h2v1h-2zM951 132h2v1h-2zM694 133h1v1h-1zM777 133h1v1h-1zM883 133h2v1h-2zM953 133h2v1h-2zM694 134h1v1h-1zM778 134h2v1h-2zM881 134h2v1h-2zM955 134h2v1h-2zM693 135h1v1h-1zM780 135h1v1h-1zM879 135h2v1h-2zM957 135h1v1h-1zM692 136h1v1h-1zM781 136h2v1h-2zM877 136h2v1h-2zM958 136h2v1h-2zM692 137h1v1h-1zM783 137h1v1h-1zM876 137h1v1h-1zM960 137h1v1h-1zM691 138h1v1h-1zM784 138h2v1h-2zM874 138h2v1h-2zM961 138h1v1h-1zM691 139h1v1h-1zM786 139h2v1h-2zM873 139h1v1h-1zM962 139h2v1h-2zM690 140h1v1h-1zM788 140h1v1h-1zM872 140h1v1h-1zM964 140h1v1h-1zM690 141h1v1h-1zM789 141h2v1h-2zM870 141h2v1h-2zM965 141h1v1h-1zM689 142h1v1h-1zM791 142h1v1h-1zM869 142h1v1h-1zM966 142h2v1h-2zM689 143h1v1h-1zM792 143h2v1h-2zM868 143h1v1h-1zM968 143h1v1h-1zM688 144h1v1h-1zM794 144h2v1h-2zM867 144h1v1h-1zM969 144h1v1h-1zM688 145h1v1h-1zM796 145h1v1h-1zM866 145h1v1h-1zM970 145h2v1h-2zM687 146h1v1h-1zM797 146h1v1h-1zM865 146h1v1h-1zM972 146h1v1h-1zM687 147h1v1h-1zM798 147h1v1h-1zM864 147h1v1h-1zM973 147h1v1h-1zM686 148h1v1h-1zM799 148h1v1h-1zM863 148h1v1h-1zM974 148h2v1h-2zM686 149h1v1h-1zM800 149h2v1h-2zM862 149h1v1h-1zM976 149h1v1h-1zM685 150h1v1h-1zM802 150h1v1h-1zM861 150h1v1h-1zM977 150h1v1h-1zM685 151h1v1h-1zM803 151h1v1h-1zM859 151h2v1h-2zM978 151h2v1h-2zM684 152h1v1h-1zM804 152h1v1h-1zM857 152h2v1h-2zM980 152h1v1h-1zM683 153h2v1h-2zM805 153h2v1h-2zM855 153h2v1h-2zM981 153h1v1h-1zM681 154h2v1h-2zM807 154h2v1h-2zM853 154h2v1h-2zM982 154h2v1h-2zM679 155h2v1h-2zM809 155h2v1h-2zM850 155h3v1h-3zM984 155h1v1h-1zM677 156h2v1h-2zM811 156h2v1h-2zM846 156h4v1h-4zM985 156h1v1h-1zM675 157h2v1h-2zM813 157h2v1h-2zM842 157h4v1h-4zM986 157h2v1h-2zM673 158h2v1h-2zM815 158h2v1h-2zM838 158h4v1h-4zM988 158h2v1h-2zM671 159h2v1h-2zM817 159h2v1h-2zM834 159h4v1h-4zM990 159h2v1h-2zM669 160h2v1h-2zM819 160h5v1h-5zM830 160h4v1h-4zM992 160h3v1h-3zM668 161h1v1h-1zM824 161h6v1h-6zM995 161h2v1h-2zM666 162h2v1h-2zM997 162h1v1h-1zM664 163h2v1h-2zM998 163h1v1h-1zM663 164h1v1h-1zM999 164h1v1h-1zM661 165h2v1h-2zM1000 165h2v1h-2zM660 166h1v1h-1zM1002 166h1v1h-1zM659 167h1v1h-1zM1003 167h1v1h-1zM658 168h1v1h-1zM1004 168h1v1h-1zM658 169h1v1h-1zM1005 169h1v1h-1zM657 170h1v1h-1zM1006 170h1v1h-1zM656 171h1v1h-1zM1007 171h1v1h-1zM655 172h1v1h-1zM1008 172h2v1h-2zM654 173h1v1h-1zM1010 173h1v1h-1zM654 174h1v1h-1zM1011 174h1v1h-1zM653 175h1v1h-1zM1012 175h1v1h-1zM652 176h1v1h-1zM1013 176h1v1h-1zM651 177h1v1h-1zM1014 177h1v1h-1zM650 178h1v1h-1zM1015 178h1v1h-1zM648 179h2v1h-2zM1016 179h2v1h-2zM647 180h1v1h-1zM1018 180h1v1h-1zM646 181h1v1h-1zM1019 181h1v1h-1zM645 182h1v1h-1zM1020 182h2v1h-2zM643 183h2v1h-2zM1022 183h2v1h-2zM641 184h2v1h-2zM1024 184h3v1h-3zM639 185h2v1h-2zM1027 185h3v1h-3zM637 186h2v1h-2zM1030 186h4v1h-4zM636 187h1v1h-1zM1034 187h4v1h-4zM634 188h2v1h-2zM1038 188h4v1h-4zM633 189h1v1h-1zM1042 189h3v1h-3zM632 190h1v1h-1zM1045 190h2v1h-2zM630 191h2v1h-2zM1047 191h1v1h-1zM629 192h1v1h-1zM1048 192h2v1h-2zM628 193h1v1h-1zM1050 193h2v1h-2zM627 194h1v1h-1zM1052 194h1v1h-1zM626 195h1v1h-1zM1053 195h1v1h-1zM625 196h1v1h-1zM1054 196h2v1h-2zM624 197h1v1h-1zM1056 197h1v1h-1zM624 198h1v1h-1zM1057 198h1v1h-1zM623 199h1v1h-1zM1058 199h2v1h-2zM622 200h1v1h-1zM1060 200h1v1h-1zM621 201h1v1h-1zM1061 201h1v1h-1zM620 202h1v1h-1zM1062 202h1v1h-1zM619 203h1v1h-1zM1063 203h1v1h-1zM619 204h1v1h-1zM1064 204h1v1h-1zM618 205h1v1h-1zM1065 205h1v1h-1zM617 206h1v1h-1zM1066 206h1v1h-1zM616 207h1v1h-1zM1067 207h1v1h-1zM616 208h1v1h-1zM1068 208h1v1h-1zM615 209h1v1h-1zM1069 209h1v1h-1zM614 210h1v1h-1zM1070 210h1v1h-1zM613 211h1v1h-1zM1071 211h1v1h-1zM613 212h1v1h-1zM1072 212h2v1h-2zM612 213h1v1h-1zM1074 213h1v1h-1zM611 214h1v1h-1zM1075 214h1v1h-1zM611 215h1v1h-1zM1076 215h1v1h-1zM610 216h1v1h-1zM1077 216h1v1h-1zM610 217h1v1h-1zM1078 217h2v1h-2zM609 218h1v1h-1zM1080 218h1v1h-1zM609 219h1v1h-1zM1081 219h1v1h-1zM608 220h1v1h-1zM1082 220h2v1h-2zM607 221h1v1h-1zM1084 221h1v1h-1zM607 222h1v1h-1zM1085 222h2v1h-2zM606 223h1v1h-1zM1087 223h1v1h-1zM606 224h1v1h-1zM1088 224h2v1h-2zM605 225h1v1h-1zM1090 225h2v1h-2zM605 226h1v1h-1zM1092 226h1v1h-1zM604 227h1v1h-1zM1093 227h2v1h-2zM603 228h1v1h-1zM1095 228h2v1h-2zM603 229h1v1h-1zM1097 229h2v1h-2zM602 230h1v1h-1zM1099 230h3v1h-3zM601 231h1v1h-1zM1102 231h2v1h-2zM600 232h1v1h-1zM1104 232h3v1h-3zM600 233h1v1h-1zM1107 233h3v1h-3zM599 234h1v1h-1zM1110 234h2v1h-2zM598 235h1v1h-1zM1112 235h3v1h-3zM597 236h1v1h-1zM1115 236h2v1h-2zM597 237h1v1h-1zM1117 237h2v1h-2zM596 238h1v1h-1zM1119 238h1v1h-1zM595 239h1v1h-1zM1120 239h2v1h-2zM595 240h1v1h-1zM1122 240h2v1h-2zM594 241h1v1h-1zM1124 241h2v1h-2zM593 242h1v1h-1zM1126 242h2v1h-2zM593 243h1v1h-1zM1128 243h3v1h-3zM592 244h1v1h-1zM1131 244h5v1h-5zM591 245h1v1h-1zM1136 245h5v1h-5zM591 246h1v1h-1zM590 247h1v1h-1zM589 248h1v1h-1zM589 249h1v1h-1zM588 250h1v1h-1zM587 251h1v1h-1zM587 252h1v1h-1zM586 253h1v1h-1zM585 254h1v1h-1zM584 255h1v1h-1zM584 256h1v1h-1zM583 257h1v1h-1zM582 258h1v1h-1zM581 259h1v1h-1zM581 260h1v1h-1zM580 261h1v1h-1zM579 262h1v1h-1zM579 263h1v1h-1zM578 264h1v1h-1zM578 265h1v1h-1zM577 266h1v1h-1zM577 267h1v1h-1zM576 268h1v1h-1zM575 269h1v1h-1zM575 270h1v1h-1zM574 271h1v1h-1zM574 272h1v1h-1zM573 273h1v1h-1zM573 274h1v1h-1zM572 275h1v1h-1zM571 276h1v1h-1zM571 277h1v1h-1zM570 278h1v1h-1zM570 279h1v1h-1zM569 280h1v1h-1zM569 281h1v1h-1zM568 282h1v1h-1zM568 283h1v1h-1zM567 284h1v1h-1zM567 285h1v1h-1zM566 286h1v1h-1zM566 287h1v1h-1zM565 288h1v1h-1zM565 289h1v1h-1zM564 290h1v1h-1zM563 291h1v1h-1zM563 292h1v1h-1zM562 293h1v1h-1zM562 294h1v1h-1zM561 295h1v1h-1zM561 296h1v1h-1zM560 297h1v1h-1zM560 298h1v1h-1zM559 299h1v1h-1zM559 300h1v1h-1zM558 301h1v1h-1zM558 302h1v1h-1zM557 303h1v1h-1zM557 304h1v1h-1zM556 305h1v1h-1zM556 306h1v1h-1zM555 307h1v1h-1zM555 308h1v1h-1zM554 309h1v1h-1zM554 310h1v1h-1zM553 311h1v1h-1zM553 312h1v1h-1zM552 313h1v1h-1zM552 314h1v1h-1zM551 315h1v1h-1zM551 316h1v1h-1zM550 317h1v1h-1zM550 318h1v1h-1zM549 319h1v1h-1zM549 320h1v1h-1zM548 321h1v1h-1zM548 322h1v1h-1zM547 323h1v1h-1zM547 324h1v1h-1zM546 325h1v1h-1zM546 326h1v1h-1zM545 327h1v1h-1zM545 328h1v1h-1zM544 329h1v1h-1zM544 330h1v1h-1zM544 331h1v1h-1zM543 332h1v1h-1zM543 333h1v1h-1zM542 334h1v1h-1zM542 335h1v1h-1zM541 336h1v1h-1zM240 337h14v1h-14zM541 337h1v1h-1zM234 338h6v1h-6zM254 338h2v1h-2zM540 338h1v1h-1zM230 339h4v1h-4zM256 339h3v1h-3zM540 339h1v1h-1zM224 340h6v1h-6zM259 340h2v1h-2zM540 340h1v1h-1zM184 341h40v1h-40zM261 341h2v1h-2zM539 341h1v1h-1zM170 342h14v1h-14zM263 342h2v1h-2zM539 342h1v1h-1zM166 343h4v1h-4zM265 343h2v1h-2zM538 343h1v1h-1zM162 344h4v1h-4zM267 344h2v1h-2zM538 344h1v1h-1zM158 345h4v1h-4zM269 345h2v1h-2zM537 345h1v1h-1zM155 346h3v1h-3zM271 346h1v1h-1zM537 346h1v1h-1zM153 347h2v1h-2zM272 347h2v1h-2zM536 347h1v1h-1zM151 348h2v1h-2zM274 348h2v1h-2zM536 348h1v1h-1zM149 349h2v1h-2zM276 349h1v1h-1zM535 349h1v1h-1zM148 350h1v1h-1zM277 350h2v1h-2zM535 350h1v1h-1zM147 351h1v1h-1zM279 351h2v1h-2zM534 351h1v1h-1zM146 352h1v1h-1zM281 352h2v1h-2zM534 352h1v1h-1zM144 353h2v1h-2zM283 353h3v1h-3zM533 353h1v1h-1zM143 354h1v1h-1zM286 354h2v1h-2zM533 354h1v1h-1zM142 355h1v1h-1zM288 355h3v1h-3zM532 355h1v1h-1zM141 356h1v1h-1zM291 356h2v1h-2zM532 356h1v1h-1zM140 357h1v1h-1zM293 357h2v1h-2zM531 357h1v1h-1zM139 358h1v1h-1zM295 358h2v1h-2zM531 358h1v1h-1zM138 359h1v1h-1zM297 359h2v1h-2zM530 359h1v1h-1zM138 360h1v1h-1zM299 360h3v1h-3zM530 360h1v1h-1zM137 361h1v1h-1zM302 361h2v1h-2zM530 361h1v1h-1zM136 362h1v1h-1zM304 362h3v1h-3zM529 362h1v1h-1zM135 363h1v1h-1zM307 363h2v1h-2zM529 363h1v1h-1zM134 364h1v1h-1zM309 364h1v1h-1zM528 364h1v1h-1zM134 365h1v1h-1zM310 365h2v1h-2zM528 365h1v1h-1zM133 366h1v1h-1zM312 366h1v1h-1zM528 366h1v1h-1zM132 367h1v1h-1zM313 367h1v1h-1zM527 367h1v1h-1zM131 368h1v1h-1zM314 368h2v1h-2zM527 368h1v1h-1zM130 369h1v1h-1zM316 369h1v1h-1zM526 369h1v1h-1zM129 370h1v1h-1zM317 370h2v1h-2zM526 370h1v1h-1zM128 371h1v1h-1zM319 371h1v1h-1zM526 371h1v1h-1zM128 372h1v1h-1zM320 372h2v1h-2zM525 372h1v1h-1zM127 373h1v1h-1zM322 373h2v1h-2zM525 373h1v1h-1zM126 374h1v1h-1zM324 374h1v1h-1zM524 374h1v1h-1zM125 375h1v1h-1zM325 375h1v1h-1zM524 375h1v1h-1zM124 376h1v1h-1zM326 376h2v1h-2zM523 376h1v1h-1zM123 377h1v1h-1zM328 377h1v1h-1zM522 377h1v1h-1zM122 378h1v1h-1zM329 378h1v1h-1zM520 378h2v1h-2zM122 379h1v1h-1zM330 379h2v1h-2zM519 379h1v1h-1zM121 380h1v1h-1zM332 380h2v1h-2zM518 380h1v1h-1zM120 381h1v1h-1zM334 381h2v1h-2zM517 381h1v1h-1zM119 382h1v1h-1zM336 382h3v1h-3zM516 382h1v1h-1zM118 383h1v1h-1zM339 383h2v1h-2zM515 383h1v1h-1zM118 384h1v1h-1zM341 384h2v1h-2zM514 384h1v1h-1zM117 385h1v1h-1zM343 385h2v1h-2zM512 385h2v1h-2zM116 386h1v1h-1zM345 386h2v1h-2zM511 386h1v1h-1zM116 387h1v1h-1zM347 387h2v1h-2zM510 387h1v1h-1zM115 388h1v1h-1zM349 388h2v1h-2zM509 388h1v1h-1zM115 389h1v1h-1zM351 389h2v1h-2zM506 389h3v1h-3zM114 390h1v1h-1zM353 390h2v1h-2zM502 390h4v1h-4zM114 391h1v1h-1zM355 391h3v1h-3zM498 391h4v1h-4zM113 392h1v1h-1zM358 392h2v1h-2zM432 392h56v1h-56zM494 392h4v1h-4zM113 393h1v1h-1zM360 393h3v1h-3zM400 393h32v1h-32zM488 393h6v1h-6zM112 394h1v1h-1zM363 394h5v1h-5zM386 394h14v1h-14zM112 395h1v1h-1zM368 395h8v1h-8zM382 395h4v1h-4zM112 396h1v1h-1zM376 396h6v1h-6zM111 397h1v1h-1zM111 398h1v1h-1zM110 399h1v1h-1zM110 400h1v1h-1zM109 401h1v1h-1zM109 402h1v1h-1zM108 403h1v1h-1zM108 404h1v1h-1zM107 405h1v1h-1zM107 406h1v1h-1zM106 407h1v1h-1zM106 408h1v1h-1zM105 409h1v1h-1zM105 410h1v1h-1zM104 411h1v1h-1zM103 412h1v1h-1zM103 413h1v1h-1zM102 414h1v1h-1zM102 415h1v1h-1zM101 416h1v1h-1zM101 417h1v1h-1zM100 418h1v1h-1zM99 419h1v1h-1zM99 420h1v1h-1zM98 421h1v1h-1zM98 422h1v1h-1zM97 423h1v1h-1zM97 424h1v1h-1zM96 425h1v1h-1zM95 426h1v1h-1zM95 427h1v1h-1zM94 428h1v1h-1zM94 429h1v1h-1zM93 430h1v1h-1zM93 431h1v1h-1zM92 432h1v1h-1zM91 433h1v1h-1zM91 434h1v1h-1zM90 435h1v1h-1zM90 436h1v1h-1zM89 437h1v1h-1zM89 438h1v1h-1zM88 439h1v1h-1zM88 440h1v1h-1zM87 441h1v1h-1zM87 442h1v1h-1zM86 443h1v1h-1zM86 444h1v1h-1zM85 445h1v1h-1zM85 446h1v1h-1zM84 447h1v1h-1zM83 448h1v1h-1zM83 449h1v1h-1zM82 450h1v1h-1zM81 451h1v1h-1zM80 452h1v1h-1zM80 453h1v1h-1zM79 454h1v1h-1zM78 455h1v1h-1zM77 456h1v1h-1zM77 457h1v1h-1zM76 458h1v1h-1zM76 459h1v1h-1zM75 460h1v1h-1zM75 461h1v1h-1zM74 462h1v1h-1zM74 463h1v1h-1zM73 464h1v1h-1zM73 465h1v1h-1zM73 466h1v1h-1zM72 467h1v1h-1zM72 468h1v1h-1zM71 469h1v1h-1zM71 470h1v1h-1zM71 471h1v1h-1zM70 472h1v1h-1zM70 473h1v1h-1zM69 474h1v1h-1zM69 475h1v1h-1zM68 476h1v1h-1zM68 477h1v1h-1zM67 478h1v1h-1zM67 479h1v1h-1zM66 480h1v1h-1zM66 481h1v1h-1zM65 482h1v1h-1zM64 483h1v1h-1zM64 484h1v1h-1zM63 485h1v1h-1zM62 486h1v1h-1zM62 487h1v1h-1zM61 488h1v1h-1zM61 489h1v1h-1zM60 490h1v1h-1zM59 491h1v1h-1zM59 492h1v1h-1zM58 493h1v1h-1zM58 494h1v1h-1zM57 495h1v1h-1zM56 496h1v1h-1zM56 497h1v1h-1zM55 498h1v1h-1zM54 499h1v1h-1zM54 500h1v1h-1zM53 501h1v1h-1zM53 502h1v1h-1zM52 503h1v1h-1zM51 504h1v1h-1zM51 505h1v1h-1zM50 506h1v1h-1zM50 507h1v1h-1zM49 508h1v1h-1zM49 509h1v1h-1zM48 510h1v1h-1zM47 511h1v1h-1zM47 512h1v1h-1zM46 513h1v1h-1zM46 514h1v1h-1zM45 515h1v1h-1zM45 516h1v1h-1zM44 517h1v1h-1zM43 518h1v1h-1zM43 519h1v1h-1zM42 520h1v1h-1zM42 521h1v1h-1zM41 522h1v1h-1zM41 523h1v1h-1zM40 524h1v1h-1zM39 525h1v1h-1zM39 526h1v1h-1zM38 527h1v1h-1zM38 528h1v1h-1zM37 529h1v1h-1zM37 530h1v1h-1zM36 531h1v1h-1zM35 532h1v1h-1zM34 533h1v1h-1zM33 534h1v1h-1zM32 535h1v1h-1zM31 536h1v1h-1zM30 537h1v1h-1zM29 538h1v1h-1zM28 539h1v1h-1zM27 540h1v1h-1zM26 541h1v1h-1zM26 542h1v1h-1zM25 543h1v1h-1zM24 544h1v1h-1zM23 545h1v1h-1zM22 546h1v1h-1zM22 547h1v1h-1zM21 548h1v1h-1zM20 549h1v1h-1zM18 550h2v1h-2zM17 551h1v1h-1zM16 552h1v1h-1zM14 553h2v1h-2zM13 554h1v1h-1zM12 555h1v1h-1zM10 556h2v1h-2zM9 557h1v1h-1zM8 558h1v1h-1zM6 559h2v1h-2zM5 560h1v1h-1zM4 561h1v1h-1z" fill="#ff0000"/>
<path d="M700 80h2v1h-2zM699 81h1v1h-1zM702 81h4v1h-4zM698 82h1v1h-1zM706 82h3v1h-3zM697 83h1v1h-1zM709 83h2v1h-2zM696 84h1v1h-1zM711 84h1v1h-1zM696 85h1v1h-1zM712 85h2v1h-2zM695 86h1v1h-1zM714 86h2v1h-2zM694 87h1v1h-1zM716 87h1v1h-1zM693 88h1v1h-1zM717 88h1v1h-1zM692 89h1v1h-1zM718 89h1v1h-1zM691 90h1v1h-1zM719 90h1v1h-1zM691 91h1v1h-1zM720 91h1v1h-1zM690 92h1v1h-1zM720 92h1v1h-1zM690 93h1v1h-1zM721 93h1v1h-1zM689 94h1v1h-1zM722 94h1v1h-1zM689 95h1v1h-1zM723 95h1v1h-1zM688 96h1v1h-1zM724 96h1v1h-1zM687 97h1v1h-1zM725 97h2v1h-2zM687 98h1v1h-1zM727 98h1v1h-1zM686 99h1v1h-1zM728 99h2v1h-2zM686 100h1v1h-1zM730 100h2v1h-2zM685 101h1v1h-1zM732 101h1v1h-1zM685 102h1v1h-1zM733 102h1v1h-1zM684 103h1v1h-1zM734 103h1v1h-1zM683 104h1v1h-1zM735 104h1v1h-1zM683 105h1v1h-1zM736 105h1v1h-1zM682 106h1v1h-1zM736 106h1v1h-1zM682 107h1v1h-1zM737 107h1v1h-1zM681 108h1v1h-1zM738 108h1v1h-1zM681 109h1v1h-1zM739 109h1v1h-1zM680 110h1v1h-1zM740 110h1v1h-1zM679 111h1v1h-1zM741 111h1v1h-1zM907 111h2v1h-2zM679 112h1v1h-1zM741 112h1v1h-1zM904 112h3v1h-3zM909 112h1v1h-1zM678 113h1v1h-1zM742 113h1v1h-1zM902 113h2v1h-2zM910 113h2v1h-2zM678 114h1v1h-1zM742 114h1v1h-1zM875 114h3v1h-3zM896 114h6v1h-6zM912 114h1v1h-1zM677 115h1v1h-1zM743 115h1v1h-1zM873 115h2v1h-2zM878 115h4v1h-4zM888 115h8v1h-8zM913 115h1v1h-1zM677 116h1v1h-1zM743 116h1v1h-1zM871 116h2v1h-2zM882 116h6v1h-6zM914 116h2v1h-2zM676 117h1v1h-1zM744 117h1v1h-1zM869 117h2v1h-2zM916 117h1v1h-1zM675 118h1v1h-1zM745 118h1v1h-1zM868 118h1v1h-1zM917 118h1v1h-1zM674 119h1v1h-1zM745 119h1v1h-1zM866 119h2v1h-2zM918 119h1v1h-1zM674 120h1v1h-1zM746 120h1v1h-1zM865 120h1v1h-1zM918 120h1v1h-1zM673 121h1v1h-1zM746 121h1v1h-1zM864 121h1v1h-1zM919 121h1v1h-1zM672 122h1v1h-1zM747 122h1v1h-1zM862 122h2v1h-2zM920 122h1v1h-1zM671 123h1v1h-1zM747 123h1v1h-1zM861 123h1v1h-1zM921 123h1v1h-1zM670 124h1v1h-1zM748 124h1v1h-1zM860 124h1v1h-1zM922 124h1v1h-1zM670 125h1v1h-1zM748 125h1v1h-1zM858 125h2v1h-2zM922 125h1v1h-1zM669 126h1v1h-1zM749 126h1v1h-1zM856 126h2v1h-2zM923 126h1v1h-1zM668 127h1v1h-1zM749 127h1v1h-1zM855 127h1v1h-1zM924 127h1v1h-1zM668 128h1v1h-1zM750 128h1v1h-1zM853 128h2v1h-2zM925 128h1v1h-1zM667 129h1v1h-1zM750 129h1v1h-1zM852 129h1v1h-1zM926 129h1v1h-1zM667 130h1v1h-1zM751 130h1v1h-1zM851 130h1v1h-1zM926 130h1v1h-1zM666 131h1v1h-1zM751 131h1v1h-1zM850 131h1v1h-1zM927 131h1v1h-1zM666 132h1v1h-1zM752 132h1v1h-1zM848 132h2v1h-2zM928 132h1v1h-1zM665 133h1v1h-1zM752 133h1v1h-1zM847 133h1v1h-1zM929 133h1v1h-1zM665 134h1v1h-1zM752 134h1v1h-1zM846 134h1v1h-1zM930 134h1v1h-1zM664 135h1v1h-1zM753 135h1v1h-1zM845 135h1v1h-1zM930 135h1v1h-1zM664 136h1v1h-1zM753 136h1v1h-1zM844 136h1v1h-1zM931 136h1v1h-1zM663 137h1v1h-1zM754 137h1v1h-1zM843 137h1v1h-1zM932 137h1v1h-1zM663 138h1v1h-1zM754 138h1v1h-1zM842 138h1v1h-1zM933 138h2v1h-2zM662 139h1v1h-1zM755 139h1v1h-1zM841 139h1v1h-1zM935 139h2v1h-2zM662 140h1v1h-1zM755 140h1v1h-1zM840 140h1v1h-1zM937 140h2v1h-2zM661 141h1v1h-1zM756 141h1v1h-1zM839 141h1v1h-1zM939 141h2v1h-2zM661 142h1v1h-1zM756 142h1v1h-1zM838 142h1v1h-1zM941 142h1v1h-1zM660 143h1v1h-1zM756 143h1v1h-1zM837 143h1v1h-1zM942 143h2v1h-2zM660 144h1v1h-1zM757 144h1v1h-1zM836 144h1v1h-1zM944 144h1v1h-1zM660 145h1v1h-1zM757 145h1v1h-1zM835 145h1v1h-1zM945 145h1v1h-1zM659 146h1v1h-1zM758 146h1v1h-1zM834 146h1v1h-1zM946 146h2v1h-2zM659 147h1v1h-1zM758 147h1v1h-1zM832 147h2v1h-2zM948 147h1v1h-1zM658 148h1v1h-1zM759 148h1v1h-1zM831 148h1v1h-1zM949 148h1v1h-1zM658 149h1v1h-1zM759 149h1v1h-1zM830 149h1v1h-1zM949 149h1v1h-1zM657 150h1v1h-1zM760 150h1v1h-1zM829 150h1v1h-1zM950 150h1v1h-1zM657 151h1v1h-1zM760 151h1v1h-1zM828 151h1v1h-1zM951 151h1v1h-1zM656 152h1v1h-1zM761 152h1v1h-1zM827 152h1v1h-1zM951 152h1v1h-1zM656 153h1v1h-1zM761 153h1v1h-1zM826 153h1v1h-1zM952 153h1v1h-1zM655 154h1v1h-1zM762 154h1v1h-1zM825 154h1v1h-1zM953 154h1v1h-1zM655 155h1v1h-1zM762 155h1v1h-1zM824 155h1v1h-1zM953 155h1v1h-1zM654 156h1v1h-1zM763 156h1v1h-1zM823 156h1v1h-1zM954 156h1v1h-1zM654 157h1v1h-1zM763 157h1v1h-1zM822 157h1v1h-1zM955 157h1v1h-1zM653 158h1v1h-1zM764 158h1v1h-1zM821 158h1v1h-1zM955 158h1v1h-1zM653 159h1v1h-1zM764 159h1v1h-1zM820 159h1v1h-1zM956 159h1v1h-1zM652 160h1v1h-1zM765 160h1v1h-1zM819 160h1v1h-1zM957 160h1v1h-1zM652 161h1v1h-1zM765 161h1v1h-1zM818 161h1v1h-1zM957 161h1v1h-1zM651 162h1v1h-1zM766 162h1v1h-1zM818 162h1v1h-1zM958 162h1v1h-1zM651 163h1v1h-1zM767 163h1v1h-1zM817 163h1v1h-1zM958 163h1v1h-1zM650 164h1v1h-1zM767 164h1v1h-1zM816 164h1v1h-1zM959 164h1v1h-1zM650 165h1v1h-1zM768 165h1v1h-1zM815 165h1v1h-1zM960 165h1v1h-1zM649 166h1v1h-1zM769 166h1v1h-1zM814 166h1v1h-1zM960 166h1v1h-1zM649 167h1v1h-1zM769 167h1v1h-1zM814 167h1v1h-1zM961 167h1v1h-1zM648 168h1v1h-1zM770 168h1v1h-1zM813 168h1v1h-1zM962 168h1v1h-1zM648 169h1v1h-1zM771 169h1v1h-1zM812 169h1v1h-1zM962 169h1v1h-1zM648 170h1v1h-1zM771 170h1v1h-1zM811 170h1v1h-1zM963 170h1v1h-1zM647 171h1v1h-1zM772 171h1v1h-1zM810 171h1v1h-1zM963 171h1v1h-1zM647 172h1v1h-1zM773 172h2v1h-2zM809 172h1v1h-1zM964 172h1v1h-1zM646 173h1v1h-1zM775 173h2v1h-2zM808 173h1v1h-1zM965 173h2v1h-2zM646 174h1v1h-1zM777 174h2v1h-2zM807 174h1v1h-1zM967 174h1v1h-1zM645 175h1v1h-1zM779 175h3v1h-3zM806 175h1v1h-1zM968 175h2v1h-2zM580 176h1v1h-1zM645 176h1v1h-1zM782 176h2v1h-2zM805 176h1v1h-1zM970 176h2v1h-2zM976 176h6v1h-6zM578 177h2v1h-2zM581 177h1v1h-1zM644 177h1v1h-1zM784 177h3v1h-3zM803 177h2v1h-2zM972 177h4v1h-4zM982 177h4v1h-4zM577 178h1v1h-1zM581 178h1v1h-1zM644 178h1v1h-1zM787 178h3v1h-3zM801 178h2v1h-2zM986 178h4v1h-4zM576 179h1v1h-1zM582 179h1v1h-1zM643 179h1v1h-1zM790 179h2v1h-2zM799 179h2v1h-2zM990 179h2v1h-2zM574 180h2v1h-2zM583 180h1v1h-1zM643 180h1v1h-1zM792 180h3v1h-3zM797 180h2v1h-2zM992 180h3v1h-3zM573 181h1v1h-1zM583 181h1v1h-1zM642 181h1v1h-1zM795 181h2v1h-2zM995 181h2v1h-2zM572 182h1v1h-1zM584 182h1v1h-1zM642 182h1v1h-1zM997 182h1v1h-1zM572 183h1v1h-1zM585 183h1v1h-1zM641 183h1v1h-1zM998 183h2v1h-2zM571 184h1v1h-1zM585 184h1v1h-1zM641 184h1v1h-1zM1000 184h1v1h-1zM571 185h1v1h-1zM586 185h1v1h-1zM640 185h1v1h-1zM1001 185h1v1h-1zM570 186h1v1h-1zM587 186h1v1h-1zM639 186h1v1h-1zM1002 186h2v1h-2zM570 187h1v1h-1zM587 187h1v1h-1zM639 187h1v1h-1zM1004 187h2v1h-2zM569 188h1v1h-1zM588 188h4v1h-4zM638 188h1v1h-1zM1006 188h4v1h-4zM569 189h1v1h-1zM592 189h5v1h-5zM638 189h1v1h-1zM1010 189h4v1h-4zM569 190h1v1h-1zM597 190h2v1h-2zM637 190h1v1h-1zM1014 190h4v1h-4zM568 191h1v1h-1zM599 191h1v1h-1zM637 191h1v1h-1zM1018 191h4v1h-4zM568 192h1v1h-1zM600 192h2v1h-2zM636 192h1v1h-1zM1022 192h4v1h-4zM567 193h1v1h-1zM602 193h2v1h-2zM635 193h1v1h-1zM1026 193h3v1h-3zM567 194h1v1h-1zM604 194h2v1h-2zM635 194h1v1h-1zM1029 194h2v1h-2zM567 195h1v1h-1zM606 195h2v1h-2zM634 195h1v1h-1zM1031 195h1v1h-1zM566 196h1v1h-1zM608 196h3v1h-3zM634 196h1v1h-1zM1032 196h2v1h-2zM566 197h1v1h-1zM611 197h3v1h-3zM633 197h1v1h-1zM1034 197h2v1h-2zM565 198h1v1h-1zM614 198h2v1h-2zM632 198h1v1h-1zM1036 198h1v1h-1zM565 199h1v1h-1zM616 199h3v1h-3zM632 199h1v1h-1zM1037 199h2v1h-2zM564 200h1v1h-1zM619 200h2v1h-2zM631 200h1v1h-1zM1039 200h2v1h-2zM564 201h1v1h-1zM621 201h2v1h-2zM630 201h1v1h-1zM1041 201h2v1h-2zM564 202h1v1h-1zM623 202h1v1h-1zM630 202h1v1h-1zM1043 202h2v1h-2zM563 203h1v1h-1zM624 203h2v1h-2zM629 203h1v1h-1zM1045 203h1v1h-1zM563 204h1v1h-1zM626 204h2v1h-2zM629 204h1v1h-1zM1046 204h1v1h-1zM563 205h1v1h-1zM628 205h1v1h-1zM1047 205h1v1h-1zM563 206h1v1h-1zM1048 206h1v1h-1zM562 207h1v1h-1zM1049 207h1v1h-1zM562 208h1v1h-1zM1050 208h1v1h-1zM562 209h1v1h-1zM1051 209h1v1h-1zM562 210h1v1h-1zM1052 210h1v1h-1zM561 211h1v1h-1zM1053 211h1v1h-1zM561 212h1v1h-1zM1054 212h1v1h-1zM561 213h1v1h-1zM1055 213h1v1h-1zM560 214h1v1h-1zM1056 214h1v1h-1zM560 215h1v1h-1zM1057 215h1v1h-1zM560 216h1v1h-1zM1058 216h1v1h-1zM560 217h1v1h-1zM1059 217h1v1h-1zM559 218h1v1h-1zM1060 218h1v1h-1zM559 219h1v1h-1zM1061 219h1v1h-1zM559 220h1v1h-1zM1062 220h1v1h-1zM558 221h1v1h-1zM1063 221h1v1h-1zM558 222h1v1h-1zM1064 222h1v1h-1zM558 223h1v1h-1zM1065 223h1v1h-1zM558 224h1v1h-1zM1066 224h1v1h-1zM557 225h1v1h-1zM1067 225h1v1h-1zM557 226h1v1h-1zM1068 226h1v1h-1zM557 227h1v1h-1zM1069 227h1v1h-1zM557 228h1v1h-1zM1069 228h1v1h-1zM556 229h1v1h-1zM1070 229h1v1h-1zM556 230h1v1h-1zM1070 230h1v1h-1zM556 231h1v1h-1zM1071 231h1v1h-1zM555 232h1v1h-1zM1071 232h1v1h-1zM555 233h1v1h-1zM1072 233h1v1h-1zM555 234h1v1h-1zM1073 234h1v1h-1zM555 235h1v1h-1zM1073 235h1v1h-1zM554 236h1v1h-1zM1074 236h1v1h-1zM554 237h1v1h-1zM1074 237h1v1h-1zM554 238h1v1h-1zM1075 238h1v1h-1zM554 239h1v1h-1zM1075 239h1v1h-1zM553 240h1v1h-1zM1076 240h1v1h-1zM553 241h1v1h-1zM1077 241h1v1h-1zM553 242h1v1h-1zM1078 242h1v1h-1zM552 243h1v1h-1zM1079 243h1v1h-1zM552 244h1v1h-1zM1080 244h2v1h-2zM1140 244h1v1h-1zM552 245h1v1h-1zM1082 245h1v1h-1zM1138 245h2v1h-2zM552 246h1v1h-1zM1083 246h1v1h-1zM1137 246h1v1h-1zM551 247h1v1h-1zM1084 247h1v1h-1zM1136 247h1v1h-1zM551 248h1v1h-1zM1085 248h1v1h-1zM1134 248h2v1h-2zM551 249h1v1h-1zM1086 249h1v1h-1zM1133 249h1v1h-1zM550 250h1v1h-1zM1087 250h1v1h-1zM1132 250h1v1h-1zM550 251h1v1h-1zM1088 251h2v1h-2zM1130 251h2v1h-2zM550 252h1v1h-1zM1090 252h1v1h-1zM1129 252h1v1h-1zM550 253h1v1h-1zM1091 253h1v1h-1zM1128 253h1v1h-1zM549 254h1v1h-1zM1092 254h1v1h-1zM1126 254h2v1h-2zM549 255h1v1h-1zM1093 255h2v1h-2zM1125 255h1v1h-1zM549 256h1v1h-1zM1095 256h2v1h-2zM1112 256h13v1h-13zM549 257h1v1h-1zM1097 257h2v1h-2zM1104 257h8v1h-8zM548 258h1v1h-1zM1099 258h5v1h-5zM548 259h1v1h-1zM548 260h1v1h-1zM547 261h1v1h-1zM547 262h1v1h-1zM547 263h1v1h-1zM547 264h1v1h-1zM546 265h1v1h-1zM546 266h1v1h-1zM546 267h1v1h-1zM546 268h1v1h-1zM545 269h1v1h-1zM545 270h1v1h-1zM545 271h1v1h-1zM545 272h1v1h-1zM544 273h1v1h-1zM544 274h1v1h-1zM544 275h1v1h-1zM543 276h1v1h-1zM543 277h1v1h-1zM543 278h1v1h-1zM543 279h1v1h-1zM542 280h1v1h-1zM542 281h1v1h-1zM542 282h1v1h-1zM542 283h1v1h-1zM541 284h1v1h-1zM541 285h1v1h-1zM541 286h1v1h-1zM541 287h1v1h-1zM540 288h1v1h-1zM540 289h1v1h-1zM540 290h1v1h-1zM540 291h1v1h-1zM539 292h1v1h-1zM539 293h1v1h-1zM539 294h1v1h-1zM539 295h1v1h-1zM538 296h1v1h-1zM538 297h1v1h-1zM538 298h1v1h-1zM538 299h1v1h-1zM538 300h1v1h-1zM537 301h1v1h-1zM537 302h1v1h-1zM537 303h1v1h-1zM537 304h1v1h-1zM536 305h1v1h-1zM536 306h1v1h-1zM536 307h1v1h-1zM536 308h1v1h-1zM536 309h1v1h-1zM535 310h1v1h-1zM535 311h1v1h-1zM535 312h1v1h-1zM535 313h1v1h-1zM534 314h1v1h-1zM534 315h1v1h-1zM534 316h1v1h-1zM534 317h1v1h-1zM534 318h1v1h-1zM533 319h1v1h-1zM533 320h1v1h-1zM533 321h1v1h-1zM533 322h1v1h-1zM532 323h1v1h-1zM532 324h1v1h-1zM532 325h1v1h-1zM532 326h1v1h-1zM532 327h1v1h-1zM531 328h1v1h-1zM531 329h1v1h-1zM531 330h1v1h-1zM531 331h1v1h-1zM530 332h1v1h-1zM530 333h1v1h-1zM242 334h6v1h-6zM530 334h1v1h-1zM238 335h4v1h-4zM248 335h5v1h-5zM530 335h1v1h-1zM232 336h6v1h-6zM253 336h1v1h-1zM529 336h1v1h-1zM122 337h3v1h-3zM210 337h22v1h-22zM254 337h2v1h-2zM529 337h1v1h-1zM118 338h4v1h-4zM125 338h2v1h-2zM206 338h4v1h-4zM256 338h1v1h-1zM529 338h1v1h-1zM114 339h4v1h-4zM127 339h2v1h-2zM200 339h6v1h-6zM257 339h1v1h-1zM529 339h1v1h-1zM110 340h4v1h-4zM129 340h2v1h-2zM194 340h6v1h-6zM258 340h2v1h-2zM528 340h1v1h-1zM108 341h2v1h-2zM131 341h2v1h-2zM190 341h4v1h-4zM260 341h1v1h-1zM528 341h1v1h-1zM106 342h2v1h-2zM133 342h2v1h-2zM186 342h4v1h-4zM261 342h1v1h-1zM528 342h1v1h-1zM104 343h2v1h-2zM135 343h2v1h-2zM182 343h4v1h-4zM262 343h1v1h-1zM528 343h1v1h-1zM103 344h1v1h-1zM137 344h2v1h-2zM144 344h16v1h-16zM178 344h4v1h-4zM262 344h1v1h-1zM527 344h1v1h-1zM101 345h2v1h-2zM139 345h5v1h-5zM160 345h8v1h-8zM174 345h4v1h-4zM263 345h1v1h-1zM527 345h1v1h-1zM100 346h1v1h-1zM168 346h6v1h-6zM264 346h1v1h-1zM527 346h1v1h-1zM99 347h1v1h-1zM265 347h1v1h-1zM527 347h1v1h-1zM98 348h1v1h-1zM266 348h1v1h-1zM526 348h1v1h-1zM98 349h1v1h-1zM266 349h1v1h-1zM526 349h1v1h-1zM97 350h1v1h-1zM267 350h1v1h-1zM526 350h1v1h-1zM96 351h1v1h-1zM268 351h1v1h-1zM526 351h1v1h-1zM95 352h1v1h-1zM269 352h1v1h-1zM525 352h1v1h-1zM94 353h1v1h-1zM270 353h1v1h-1zM525 353h1v1h-1zM94 354h1v1h-1zM271 354h1v1h-1zM525 354h1v1h-1zM93 355h1v1h-1zM272 355h1v1h-1zM525 355h1v1h-1zM92 356h1v1h-1zM272 356h1v1h-1zM524 356h1v1h-1zM92 357h1v1h-1zM273 357h1v1h-1zM524 357h1v1h-1zM91 358h1v1h-1zM274 358h1v1h-1zM524 358h1v1h-1zM91 359h1v1h-1zM275 359h1v1h-1zM523 359h1v1h-1zM90 360h1v1h-1zM276 360h1v1h-1zM523 360h1v1h-1zM90 361h1v1h-1zM277 361h1v1h-1zM522 361h1v1h-1zM89 362h1v1h-1zM278 362h1v1h-1zM522 362h1v1h-1zM89 363h1v1h-1zM278 363h1v1h-1zM521 363h1v1h-1zM88 364h1v1h-1zM279 364h1v1h-1zM521 364h1v1h-1zM88 365h1v1h-1zM280 365h1v1h-1zM520 365h1v1h-1zM87 366h1v1h-1zM281 366h1v1h-1zM520 366h1v1h-1zM87 367h1v1h-1zM282 367h1v1h-1zM519 367h1v1h-1zM86 368h1v1h-1zM282 368h1v1h-1zM519 368h1v1h-1zM86 369h1v1h-1zM283 369h1v1h-1zM518 369h1v1h-1zM85 370h1v1h-1zM284 370h1v1h-1zM518 370h1v1h-1zM85 371h1v1h-1zM285 371h1v1h-1zM517 371h1v1h-1zM84 372h1v1h-1zM286 372h1v1h-1zM517 372h1v1h-1zM84 373h1v1h-1zM287 373h1v1h-1zM516 373h1v1h-1zM84 374h1v1h-1zM288 374h1v1h-1zM516 374h1v1h-1zM83 375h1v1h-1zM288 375h1v1h-1zM515 375h1v1h-1zM83 376h1v1h-1zM289 376h1v1h-1zM515 376h1v1h-1zM82 377h1v1h-1zM290 377h1v1h-1zM514 377h1v1h-1zM82 378h1v1h-1zM291 378h1v1h-1zM513 378h1v1h-1zM81 379h1v1h-1zM292 379h1v1h-1zM513 379h1v1h-1zM81 380h1v1h-1zM293 380h1v1h-1zM512 380h1v1h-1zM81 381h1v1h-1zM294 381h1v1h-1zM511 381h1v1h-1zM80 382h1v1h-1zM295 382h1v1h-1zM511 382h1v1h-1zM80 383h1v1h-1zM296 383h2v1h-2zM510 383h1v1h-1zM79 384h1v1h-1zM298 384h1v1h-1zM509 384h1v1h-1zM79 385h1v1h-1zM299 385h1v1h-1zM509 385h1v1h-1zM79 386h1v1h-1zM300 386h1v1h-1zM506 386h3v1h-3zM78 387h1v1h-1zM301 387h1v1h-1zM502 387h4v1h-4zM78 388h1v1h-1zM302 388h1v1h-1zM386 388h6v1h-6zM498 388h4v1h-4zM77 389h1v1h-1zM303 389h1v1h-1zM382 389h4v1h-4zM392 389h16v1h-16zM494 389h4v1h-4zM77 390h1v1h-1zM304 390h2v1h-2zM379 390h3v1h-3zM408 390h14v1h-14zM490 390h4v1h-4zM76 391h1v1h-1zM306 391h1v1h-1zM376 391h3v1h-3zM422 391h2v1h-2zM486 391h4v1h-4zM76 392h1v1h-1zM307 392h1v1h-1zM374 392h2v1h-2zM424 392h3v1h-3zM450 392h20v1h-20zM482 392h4v1h-4zM76 393h1v1h-1zM308 393h2v1h-2zM371 393h3v1h-3zM427 393h5v1h-5zM446 393h4v1h-4zM470 393h4v1h-4zM478 393h4v1h-4zM75 394h1v1h-1zM310 394h2v1h-2zM368 394h3v1h-3zM432 394h14v1h-14zM474 394h4v1h-4zM75 395h1v1h-1zM312 395h3v1h-3zM366 395h2v1h-2zM75 396h1v1h-1zM315 396h2v1h-2zM346 396h20v1h-20zM74 397h1v1h-1zM317 397h2v1h-2zM342 397h4v1h-4zM74 398h1v1h-1zM319 398h2v1h-2zM338 398h4v1h-4zM73 399h1v1h-1zM321 399h2v1h-2zM334 399h4v1h-4zM73 400h1v1h-1zM323 400h11v1h-11zM73 401h1v1h-1zM72 402h1v1h-1zM72 403h1v1h-1zM72 404h1v1h-1zM71 405h1v1h-1zM71 406h1v1h-1zM71 407h1v1h-1zM70 408h1v1h-1zM70 409h1v1h-1zM69 410h1v1h-1zM69 411h1v1h-1zM69 412h1v1h-1zM68 413h1v1h-1zM68 414h1v1h-1zM68 415h1v1h-1zM67 416h1v1h-1zM67 417h1v1h-1zM66 418h1v1h-1zM66 419h1v1h-1zM66 420h1v1h-1zM65 421h1v1h-1zM65 422h1v1h-1zM65 423h1v1h-1zM64 424h1v1h-1zM64 425h1v1h-1zM63 426h1v1h-1zM63 427h1v1h-1zM63 428h1v1h-1zM62 429h1v1h-1zM62 430h1v1h-1zM62 431h1v1h-1zM61 432h1v1h-1zM61 433h1v1h-1zM60 434h1v1h-1zM60 435h1v1h-1zM60 436h1v1h-1zM59 437h1v1h-1zM59 438h1v1h-1zM59 439h1v1h-1zM58 440h1v1h-1zM58 441h1v1h-1zM58 442h1v1h-1zM57 443h1v1h-1zM57 444h1v1h-1zM57 445h1v1h-1zM56 446h1v1h-1zM56 447h1v1h-1zM56 448h1v1h-1zM56 449h1v1h-1zM55 450h1v1h-1zM55 451h1v1h-1zM55 452h1v1h-1zM54 453h1v1h-1zM54 454h1v1h-1zM54 455h1v1h-1zM53 456h1v1h-1zM53 457h1v1h-1zM53 458h1v1h-1zM52 459h1v1h-1zM52 460h1v1h-1zM52 461h1v1h-1zM51 462h1v1h-1zM51 463h1v1h-1zM51 464h1v1h-1zM51 465h1v1h-1zM50 466h1v1h-1zM50 467h1v1h-1zM50 468h1v1h-1zM49 469h1v1h-1zM49 470h1v1h-1zM49 471h1v1h-1zM49 472h1v1h-1zM48 473h1v1h-1zM48 474h1v1h-1zM48 475h1v1h-1zM47 476h1v1h-1zM47 477h1v1h-1zM47 478h1v1h-1zM47 479h1v1h-1zM46 480h1v1h-1zM46 481h1v1h-1zM46 482h1v1h-1zM45 483h1v1h-1zM45 484h1v1h-1zM45 485h1v1h-1zM45 486h1v1h-1zM44 487h1v1h-1zM44 488h1v1h-1zM44 489h1v1h-1zM43 490h1v1h-1zM43 491h1v1h-1zM42 492h1v1h-1zM42 493h1v1h-1zM42 494h1v1h-1zM41 495h1v1h-1zM41 496h1v1h-1zM40 497h1v1h-1zM40 498h1v1h-1zM40 499h1v1h-1zM39 500h1v1h-1zM39 501h1v1h-1zM38 502h1v1h-1zM38 503h1v1h-1zM38 504h1v1h-1zM37 505h1v1h-1zM37 506h1v1h-1zM36 507h1v1h-1zM36 508h1v1h-1zM35 509h1v1h-1zM35 510h1v1h-1zM34 511h1v1h-1zM34 512h1v1h-1zM33 513h1v1h-1zM33 514h1v1h-1zM32 515h1v1h-1zM31 516h1v1h-1zM31 517h1v1h-1zM30 518h1v1h-1zM30 519h1v1h-1zM29 520h1v1h-1zM29 521h1v1h-1zM28 522h1v1h-1zM27 523h1v1h-1zM27 524h1v1h-1zM26 525h1v1h-1zM25 526h1v1h-1zM24 527h1v1h-1zM24 528h1v1h-1zM23 529h1v1h-1zM22 530h1v1h-1zM21 531h1v1h-1zM21 532h1v1h-1zM20 533h1v1h-1zM18 534h2v1h-2zM17 535h1v1h-1zM16 536h1v1h-1zM14 537h2v1h-2zM13 538h1v1h-1zM12 539h1v1h-1zM10 540h2v1h-2zM9 541h1v1h-1zM8 542h1v1h-1zM6 543h2v1h-2zM5 544h1v1h-1zM4 545h1v1h-1z" fill="#0000ff"/>
<rect x="4" y="151" width="1415" height="3" fill="#ff0000" />
<rect x="4" y="259" width="1415" height="3" fill="#00ff00" />
<rect x="4" y="368" width="1415" height="3" fill="#0000ff" />
<rect x="4" y="455" width="1415" height="3" fill="#0000ff" />
</g>
<rect x="3" y="149" width="7" height="7" fill="#ff0000" />
<rect x="6" y="152" width="1" height="1" fill="#ffffff" />
<rect x="1413" y="149" width="7" height="7" fill="#ff0000" />
<rect x="1416" y="152" width="1" height="1" fill="#ffffff" />
<rect x="3" y="257" width="7" height="7" fill="#00ff00" />
<rect x="6" y="260" width="1" height="1" fill="#ffffff" />
<rect x="1413" y="257" width="7" height="7" fill="#00ff00" />
<rect x="1416" y="260" width="1" height="1" fill="#ffffff" />
<rect x="3" y="366" width="7" height="7" fill="#0000ff" />
<rect x="6" y="369" width="1" height="1" fill="#ffffff" />
<rect x="1413" y="366" width="7" height="7" fill="#0000ff" />
<rect x="1416" y="369" width="1" height="1" fill="#ffffff" />
<polygon points="1130,24 1139.5,24 1134.75,29.5" fill="#c0c0c0"/>
<rect x="1420" y="32" width="2" height="1" fill="#000" />
<text x="1425" y="36" font-size="10" fill="#000" stroke="#000" stroke-width="0.25" textLength="32" lengthAdjust="spacingAndGlyphs" >7.21050</text>
<rect x="1420" y="65" width="2" height="1" fill="#000" />
<text x="1425" y="69" font-size="10" fill="#000" stroke="#000" stroke-width="0.25" textLength="32" lengthAdjust="spacingAndGlyphs" >7.18080</text>
<rect x="1420" y="98" width="2" height="1" fill="#000" />
<text x="1425" y="102" font-size="10" fill="#000" stroke="#000" stroke-width="0.25" textLength="32" lengthAdjust="spacingAndGlyphs" >7.15020</text>
<rect x="1420" y="131" width="2" height="1" fill="#000" />
<text x="1425" y="135" font-size="10" fill="#000" stroke="#000" stroke-width="0.25" textLength="32" lengthAdjust="spacingAndGlyphs" >7.11960</text>
<rect x="1420" y="164" width="2" height="1" fill="#000" />
<text x="1425" y="168" font-size="10" fill="#000" stroke="#000" stroke-width="0.25" textLength="32" lengthAdjust="spacingAndGlyphs" >7.08900</text>
<rect x="1420" y="197" width="2" height="1" fill="#000" />
<text x="1425" y="201" font-size="10" fill="#000" stroke="#000" stroke-width="0.25" textLength="32" lengthAdjust="spacingAndGlyphs" >7.05930</text>
<rect x="1420" y="230" width="2" height="1" fill="#000" />
<text x="1425" y="234" font-size="10" fill="#000" stroke="#000" stroke-width="0.25" textLength="32" lengthAdjust="spacingAndGlyphs" >7.02870</text>
<rect x="1420" y="263" width="2" height="1" fill="#000" />
<text x="1425" y="267" font-size="10" fill="#000" stroke="#000" stroke-width="0.25" textLength="32" lengthAdjust="spacingAndGlyphs" >6.99810</text>
<rect x="1420" y="296" width="2" height="1" fill="#000" />
<text x="1425" y="300" font-size="10" fill="#000" stroke="#000" stroke-width="0.25" textLength="32" lengthAdjust="spacingAndGlyphs" >6.96750</text>
<rect x="1420" y="329" width="2" height="1" fill="#000" />
<text x="1425" y="333" font-size="10" fill="#000" stroke="#000" stroke-width="0.25" textLength="32" lengthAdjust="spacingAndGlyphs" >6.93780</text>
<rect x="1420" y="362" width="2" height="1" fill="#000" />
<text x="1425" y="366" font-size="10" fill="#000" stroke="#000" stroke-width="0.25" textLength="32" lengthAdjust="spacingAndGlyphs" >6.90720</text>
<rect x="1420" y="395" width="2" height="1" fill="#000" />
<text x="1425" y="399" font-size="10" fill="#000" stroke="#000" stroke-width="0.25" textLength="32" lengthAdjust="spacingAndGlyphs" >6.87660</text>
<rect x="1420" y="428" width="2" height="1" fill="#000" />
<text x="1425" y="432" font-size="10" fill="#000" stroke="#000" stroke-width="0.25" textLength="32" lengthAdjust="spacingAndGlyphs" >6.84690</text>
<rect x="1420" y="461" width="2" height="1" fill="#000" />
<text x="1425" y="465" font-size="10" fill="#000" stroke="#000" stroke-width="0.25" textLength="32" lengthAdjust="spacingAndGlyphs" >6.81630</text>
<rect x="1420" y="494" width="2" height="1" fill="#000" />
<text x="1425" y="498" font-size="10" fill="#000" stroke="#000" stroke-width="0.25" textLength="32" lengthAdjust="spacingAndGlyphs" >6.78570</text>
<rect x="1420" y="527" width="2" height="1" fill="#000" />
<text x="1425" y="531" font-size="10" fill="#000" stroke="#000" stroke-width="0.25" textLength="32" lengthAdjust="spacingAndGlyphs" >6.75510</text>
<rect x="1420" y="560" width="2" height="1" fill="#000" />
<text x="1425" y="564" font-size="10" fill="#000" stroke="#000" stroke-width="0.25" textLength="32" lengthAdjust="spacingAndGlyphs" >6.72540</text>
<rect x="1421" y="146" width="41" height="11" fill="#ff0000" />
<text x="1425" y="155" font-size="10" fill="#fff" stroke="#fff" stroke-width="0.25" textLength="32" lengthAdjust="spacingAndGlyphs" >7.10051</text>
<rect x="1421" y="225" width="41" height="11" fill="#000000" />
<text x="1425" y="234" font-size="10" fill="#fff" stroke="#fff" stroke-width="0.25" textLength="32" lengthAdjust="spacingAndGlyphs" >7.02850</text>
<rect x="1421" y="254" width="41" height="11" fill="#00ff00" />
<text x="1425" y="263" font-size="10" fill="#fff" stroke="#fff" stroke-width="0.25" textLength="32" lengthAdjust="spacingAndGlyphs" >7.00089</text>
<rect x="1421" y="363" width="41" height="11" fill="#0000ff" />
<text x="1425" y="372" font-size="10" fill="#fff" stroke="#fff" stroke-width="0.25" textLength="32" lengthAdjust="spacingAndGlyphs" >6.90100</text>
<rect x="1421" y="450" width="41" height="11" fill="#0000ff" />
<text x="1425" y="459" font-size="10" fill="#fff" stroke="#fff" stroke-width="0.25" textLength="32" lengthAdjust="spacingAndGlyphs" >6.82103</text>
<polygon points="7,34 14,34 10.5,30" fill="#000"/>
<text x="19.5" y="35" font-size="10" fill="#000" stroke="#000" stroke-width="0.25" textLength="67.5" lengthAdjust="spacingAndGlyphs" >USDCNH-,Daily</text>
<text x="94" y="35" font-size="10" fill="#000" stroke="#000" stroke-width="0.25" textLength="141" lengthAdjust="spacingAndGlyphs" >7.02250 7.03102 7.02222 7.02850</text>
<defs>
<linearGradient id="gtop" x1="0" y1="0" x2="0" y2="1"><stop offset="0" stop-color="#5a5aff"/><stop offset="1" stop-color="#3232f0"/></linearGradient>
<linearGradient id="gbot" x1="0" y1="0" x2="0" y2="1"><stop offset="0" stop-color="#2e2ee8"/><stop offset="1" stop-color="#0000b0"/></linearGradient>
<linearGradient id="gbtn" x1="0" y1="0" x2="0" y2="1"><stop offset="0" stop-color="#f4f4f4"/><stop offset="0.5" stop-color="#e2e2e2"/><stop offset="1" stop-color="#cfcfcf"/></linearGradient>
</defs>
<rect x="7" y="43" width="52" height="24" fill="#0000b4" />
<rect x="174" y="43" width="52" height="24" fill="#0000b4" />
<rect x="8" y="44" width="50" height="23" fill="url(#gtop)" />
<rect x="175" y="44" width="50" height="23" fill="url(#gtop)" />
<rect x="7" y="67" width="109" height="40" fill="#0000b4" />
<rect x="118" y="67" width="108" height="40" fill="#0000b4" />
<rect x="8" y="67" width="107" height="39" fill="url(#gbot)" />
<rect x="119" y="67" width="106" height="39" fill="url(#gbot)" />
<rect x="11" y="66" width="44" height="1" fill="#1010b0" />
<rect x="178" y="66" width="44" height="1" fill="#1010b0" />
<rect x="11" y="67" width="44" height="1" fill="#7a7aff" />
<rect x="178" y="67" width="44" height="1" fill="#7a7aff" />
<rect x="61" y="43" width="111" height="22" fill="#c8c8c8" />
<rect x="62" y="44" width="109" height="20" fill="#ffffff" />
<rect x="62" y="44" width="20" height="20" fill="url(#gbtn)" />
<rect x="151" y="44" width="20" height="20" fill="url(#gbtn)" />
<rect x="82" y="44" width="1" height="20" fill="#c8c8c8" />
<rect x="150" y="44" width="1" height="20" fill="#c8c8c8" />
<polygon points="68.5,52 74.5,52 71.5,55" fill="#5a6fb0"/>
<polygon points="157.5,56 163.5,56 160.5,53" fill="#5a6fb0"/>
<text x="123.5" y="58" font-size="12" fill="#000" textLength="24" lengthAdjust="spacingAndGlyphs" >1.00</text>
<text x="19.7" y="59" font-size="12" fill="#fff" textLength="25" lengthAdjust="spacingAndGlyphs" >SELL</text>
<text x="187.5" y="58.6" font-size="12" fill="#fff" textLength="24.3" lengthAdjust="spacingAndGlyphs" >BUY</text>
<text x="27" y="98" font-size="13" fill="#fff" textLength="24" lengthAdjust="spacingAndGlyphs" font-weight="bold" >7.02</text>
<text x="54.6" y="97.8" font-size="35.5" fill="#fff" textLength="34.4" lengthAdjust="spacingAndGlyphs" >85</text>
<text x="94" y="82" font-size="11" fill="#fff" textLength="7.5" lengthAdjust="spacingAndGlyphs" font-weight="bold" >0</text>
<text x="137.3" y="98" font-size="13" fill="#fff" textLength="23.1" lengthAdjust="spacingAndGlyphs" font-weight="bold" >7.03</text>
<text x="166.7" y="97.8" font-size="35.5" fill="#fff" textLength="33.8" lengthAdjust="spacingAndGlyphs" >15</text>
<text x="205" y="82" font-size="11" fill="#fff" textLength="7.5" lengthAdjust="spacingAndGlyphs" font-weight="bold" >0</text>
<g clip-path="url(#cmacd)">
<rect x="4" y="627" width="1" height="7" fill="#c0c0c0" />
<rect x="12" y="624" width="1" height="10" fill="#c0c0c0" />
<rect x="20" y="620" width="1" height="14" fill="#c0c0c0" />
<rect x="28" y="616" width="1" height="18" fill="#c0c0c0" />
<rect x="36" y="610" width="1" height="24" fill="#c0c0c0" />
<rect x="44" y="605" width="1" height="29" fill="#c0c0c0" />
<rect x="52" y="595" width="1" height="39" fill="#c0c0c0" />
<rect x="60" y="589" width="1" height="45" fill="#c0c0c0" />
<rect x="68" y="585" width="1" height="49" fill="#c0c0c0" />
<rect x="76" y="579" width="1" height="55" fill="#c0c0c0" />
<rect x="84" y="577" width="1" height="57" fill="#c0c0c0" />
<rect x="92" y="577" width="1" height="57" fill="#c0c0c0" />
<rect x="100" y="577" width="1" height="57" fill="#c0c0c0" />
<rect x="108" y="577" width="1" height="57" fill="#c0c0c0" />
<rect x="116" y="578" width="1" height="56" fill="#c0c0c0" />
<rect x="124" y="577" width="1" height="57" fill="#c0c0c0" />
<rect x="132" y="580" width="1" height="54" fill="#c0c0c0" />
<rect x="140" y="582" width="1" height="52" fill="#c0c0c0" />
<rect x="148" y="584" width="1" height="50" fill="#c0c0c0" />
<rect x="156" y="585" width="1" height="49" fill="#c0c0c0" />
<rect x="164" y="587" width="1" height="47" fill="#c0c0c0" />
<rect x="172" y="590" width="1" height="44" fill="#c0c0c0" />
<rect x="180" y="593" width="1" height="41" fill="#c0c0c0" />
<rect x="188" y="595" width="1" height="39" fill="#c0c0c0" />
<rect x="196" y="597" width="1" height="37" fill="#c0c0c0" />
<rect x="204" y="598" width="1" height="36" fill="#c0c0c0" />
<rect x="212" y="598" width="1" height="36" fill="#c0c0c0" />
<rect x="220" y="601" width="1" height="33" fill="#c0c0c0" />
<rect x="228" y="604" width="1" height="30" fill="#c0c0c0" />
<rect x="236" y="605" width="1" height="29" fill="#c0c0c0" />
<rect x="244" y="607" width="1" height="27" fill="#c0c0c0" />
<rect x="252" y="609" width="1" height="25" fill="#c0c0c0" />
<rect x="260" y="614" width="1" height="20" fill="#c0c0c0" />
<rect x="268" y="618" width="1" height="16" fill="#c0c0c0" />
<rect x="276" y="624" width="1" height="10" fill="#c0c0c0" />
<rect x="284" y="629" width="1" height="5" fill="#c0c0c0" />
<rect x="292" y="632" width="1" height="2" fill="#c0c0c0" />
<rect x="300" y="633" width="1" height="1" fill="#c0c0c0" />
<rect x="308" y="633" width="1" height="1" fill="#c0c0c0" />
<rect x="316" y="633" width="1" height="3" fill="#c0c0c0" />
<rect x="324" y="633" width="1" height="5" fill="#c0c0c0" />
<rect x="332" y="633" width="1" height="7" fill="#c0c0c0" />
<rect x="340" y="633" width="1" height="7" fill="#c0c0c0" />
<rect x="348" y="633" width="1" height="7" fill="#c0c0c0" />
<rect x="356" y="633" width="1" height="7" fill="#c0c0c0" />
<rect x="364" y="633" width="1" height="5" fill="#c0c0c0" />
<rect x="372" y="633" width="1" height="5" fill="#c0c0c0" />
<rect x="380" y="633" width="1" height="4" fill="#c0c0c0" />
<rect x="388" y="633" width="1" height="5" fill="#c0c0c0" />
<rect x="396" y="633" width="1" height="5" fill="#c0c0c0" />
<rect x="404" y="633" width="1" height="4" fill="#c0c0c0" />
<rect x="412" y="633" width="1" height="5" fill="#c0c0c0" />
<rect x="420" y="633" width="1" height="5" fill="#c0c0c0" />
<rect x="428" y="633" width="1" height="5" fill="#c0c0c0" />
<rect x="436" y="633" width="1" height="5" fill="#c0c0c0" />
<rect x="444" y="633" width="1" height="4" fill="#c0c0c0" />
<rect x="452" y="633" width="1" height="3" fill="#c0c0c0" />
<rect x="460" y="633" width="1" height="4" fill="#c0c0c0" />
<rect x="468" y="633" width="1" height="4" fill="#c0c0c0" />
<rect x="476" y="633" width="1" height="4" fill="#c0c0c0" />
<rect x="484" y="633" width="1" height="3" fill="#c0c0c0" />
<rect x="492" y="633" width="1" height="3" fill="#c0c0c0" />
<rect x="500" y="633" width="1" height="2" fill="#c0c0c0" />
<rect x="508" y="633" width="1" height="1" fill="#c0c0c0" />
<rect x="516" y="625" width="1" height="9" fill="#c0c0c0" />
<rect x="524" y="619" width="1" height="15" fill="#c0c0c0" />
<rect x="532" y="601" width="1" height="33" fill="#c0c0c0" />
<rect x="540" y="594" width="1" height="40" fill="#c0c0c0" />
<rect x="548" y="586" width="1" height="48" fill="#c0c0c0" />
<rect x="556" y="581" width="1" height="53" fill="#c0c0c0" />
<rect x="564" y="576" width="1" height="58" fill="#c0c0c0" />
<rect x="572" y="572" width="1" height="62" fill="#c0c0c0" />
<rect x="580" y="578" width="1" height="56" fill="#c0c0c0" />
<rect x="588" y="580" width="1" height="54" fill="#c0c0c0" />
<rect x="596" y="582" width="1" height="52" fill="#c0c0c0" />
<rect x="604" y="585" width="1" height="49" fill="#c0c0c0" />
<rect x="612" y="585" width="1" height="49" fill="#c0c0c0" />
<rect x="620" y="586" width="1" height="48" fill="#c0c0c0" />
<rect x="628" y="587" width="1" height="47" fill="#c0c0c0" />
<rect x="636" y="587" width="1" height="47" fill="#c0c0c0" />
<rect x="644" y="583" width="1" height="51" fill="#c0c0c0" />
<rect x="652" y="578" width="1" height="56" fill="#c0c0c0" />
<rect x="660" y="575" width="1" height="59" fill="#c0c0c0" />
<rect x="668" y="573" width="1" height="61" fill="#c0c0c0" />
<rect x="676" y="574" width="1" height="60" fill="#c0c0c0" />
<rect x="684" y="574" width="1" height="60" fill="#c0c0c0" />
<rect x="692" y="572" width="1" height="62" fill="#c0c0c0" />
<rect x="700" y="573" width="1" height="61" fill="#c0c0c0" />
<rect x="708" y="577" width="1" height="57" fill="#c0c0c0" />
<rect x="716" y="581" width="1" height="53" fill="#c0c0c0" />
<rect x="724" y="588" width="1" height="46" fill="#c0c0c0" />
<rect x="732" y="593" width="1" height="41" fill="#c0c0c0" />
<rect x="740" y="598" width="1" height="36" fill="#c0c0c0" />
<rect x="748" y="604" width="1" height="30" fill="#c0c0c0" />
<rect x="756" y="612" width="1" height="22" fill="#c0c0c0" />
<rect x="764" y="619" width="1" height="15" fill="#c0c0c0" />
<rect x="772" y="624" width="1" height="10" fill="#c0c0c0" />
<rect x="780" y="626" width="1" height="8" fill="#c0c0c0" />
<rect x="788" y="627" width="1" height="7" fill="#c0c0c0" />
<rect x="796" y="627" width="1" height="7" fill="#c0c0c0" />
<rect x="804" y="626" width="1" height="8" fill="#c0c0c0" />
<rect x="812" y="625" width="1" height="9" fill="#c0c0c0" />
<rect x="820" y="625" width="1" height="9" fill="#c0c0c0" />
<rect x="828" y="624" width="1" height="10" fill="#c0c0c0" />
<rect x="836" y="623" width="1" height="11" fill="#c0c0c0" />
<rect x="844" y="620" width="1" height="14" fill="#c0c0c0" />
<rect x="852" y="619" width="1" height="15" fill="#c0c0c0" />
<rect x="860" y="617" width="1" height="17" fill="#c0c0c0" />
<rect x="868" y="616" width="1" height="18" fill="#c0c0c0" />
<rect x="876" y="618" width="1" height="16" fill="#c0c0c0" />
<rect x="884" y="620" width="1" height="14" fill="#c0c0c0" />
<rect x="892" y="621" width="1" height="13" fill="#c0c0c0" />
<rect x="900" y="619" width="1" height="15" fill="#c0c0c0" />
<rect x="908" y="617" width="1" height="17" fill="#c0c0c0" />
<rect x="916" y="621" width="1" height="13" fill="#c0c0c0" />
<rect x="924" y="627" width="1" height="7" fill="#c0c0c0" />
<rect x="932" y="632" width="1" height="2" fill="#c0c0c0" />
<rect x="940" y="633" width="1" height="1" fill="#c0c0c0" />
<rect x="948" y="633" width="1" height="1" fill="#c0c0c0" />
<rect x="956" y="633" width="1" height="5" fill="#c0c0c0" />
<rect x="964" y="633" width="1" height="7" fill="#c0c0c0" />
<rect x="972" y="633" width="1" height="9" fill="#c0c0c0" />
<rect x="980" y="633" width="1" height="10" fill="#c0c0c0" />
<rect x="988" y="633" width="1" height="12" fill="#c0c0c0" />
<rect x="996" y="633" width="1" height="13" fill="#c0c0c0" />
<rect x="1004" y="633" width="1" height="15" fill="#c0c0c0" />
<rect x="1012" y="633" width="1" height="14" fill="#c0c0c0" />
<rect x="1020" y="633" width="1" height="14" fill="#c0c0c0" />
<rect x="1028" y="633" width="1" height="17" fill="#c0c0c0" />
<rect x="1036" y="633" width="1" height="18" fill="#c0c0c0" />
<rect x="1044" y="633" width="1" height="17" fill="#c0c0c0" />
<rect x="1052" y="633" width="1" height="20" fill="#c0c0c0" />
<rect x="1060" y="633" width="1" height="24" fill="#c0c0c0" />
<rect x="1068" y="633" width="1" height="25" fill="#c0c0c0" />
<rect x="1076" y="633" width="1" height="30" fill="#c0c0c0" />
<rect x="1084" y="633" width="1" height="32" fill="#c0c0c0" />
<rect x="1092" y="633" width="1" height="28" fill="#c0c0c0" />
<rect x="1100" y="633" width="1" height="28" fill="#c0c0c0" />
<rect x="1108" y="633" width="1" height="27" fill="#c0c0c0" />
<rect x="1116" y="633" width="1" height="26" fill="#c0c0c0" />
<rect x="1124" y="633" width="1" height="25" fill="#c0c0c0" />
<rect x="1132" y="633" width="1" height="23" fill="#c0c0c0" />
<rect x="1140" y="633" width="1" height="20" fill="#c0c0c0" />
<path d="M706 574h3v1h-3zM712 574h3v1h-3zM701 575h2v1h-2zM718 575h3v1h-3zM724 575h2v1h-2zM124 576h3v1h-3zM130 576h3v1h-3zM136 576h3v1h-3zM142 576h3v1h-3zM148 576h3v1h-3zM700 576h1v1h-1zM726 576h1v1h-1zM120 577h1v1h-1zM154 577h3v1h-3zM160 577h3v1h-3zM694 577h3v1h-3zM730 577h1v1h-1zM118 578h2v1h-2zM690 578h1v1h-1zM731 578h2v1h-2zM114 579h1v1h-1zM166 579h3v1h-3zM684 579h1v1h-1zM688 579h2v1h-2zM736 579h1v1h-1zM112 580h2v1h-2zM604 580h3v1h-3zM610 580h3v1h-3zM616 580h3v1h-3zM622 580h3v1h-3zM628 580h3v1h-3zM676 580h3v1h-3zM682 580h2v1h-2zM737 580h2v1h-2zM172 581h2v1h-2zM598 581h3v1h-3zM664 581h3v1h-3zM670 581h3v1h-3zM742 581h3v1h-3zM108 582h1v1h-1zM174 582h1v1h-1zM634 582h3v1h-3zM654 582h1v1h-1zM658 582h3v1h-3zM748 582h1v1h-1zM106 583h2v1h-2zM178 583h2v1h-2zM594 583h1v1h-1zM640 583h3v1h-3zM646 583h3v1h-3zM652 583h2v1h-2zM749 583h2v1h-2zM180 584h1v1h-1zM592 584h2v1h-2zM102 585h1v1h-1zM184 585h3v1h-3zM100 586h2v1h-2zM190 586h3v1h-3zM588 586h1v1h-1zM754 586h2v1h-2zM196 587h3v1h-3zM586 587h2v1h-2zM756 587h1v1h-1zM96 588h1v1h-1zM95 589h1v1h-1zM202 589h3v1h-3zM582 589h1v1h-1zM760 589h1v1h-1zM94 590h1v1h-1zM208 590h1v1h-1zM580 590h2v1h-2zM761 590h1v1h-1zM209 591h2v1h-2zM762 591h1v1h-1zM214 592h2v1h-2zM89 593h2v1h-2zM216 593h1v1h-1zM220 593h1v1h-1zM88 594h1v1h-1zM221 594h2v1h-2zM576 594h1v1h-1zM766 594h2v1h-2zM226 595h3v1h-3zM574 595h2v1h-2zM768 595h1v1h-1zM232 596h3v1h-3zM83 597h2v1h-2zM238 597h1v1h-1zM82 598h1v1h-1zM239 598h2v1h-2zM772 598h1v1h-1zM244 599h3v1h-3zM570 599h1v1h-1zM773 599h1v1h-1zM250 600h2v1h-2zM569 600h1v1h-1zM774 600h1v1h-1zM77 601h2v1h-2zM252 601h1v1h-1zM568 601h1v1h-1zM76 602h1v1h-1zM256 602h3v1h-3zM778 603h1v1h-1zM72 604h1v1h-1zM262 604h3v1h-3zM564 604h1v1h-1zM779 604h2v1h-2zM71 605h1v1h-1zM268 605h1v1h-1zM563 605h1v1h-1zM70 606h1v1h-1zM269 606h2v1h-2zM562 606h1v1h-1zM784 607h2v1h-2zM66 608h1v1h-1zM274 608h3v1h-3zM786 608h1v1h-1zM64 609h2v1h-2zM280 610h2v1h-2zM557 610h2v1h-2zM790 610h1v1h-1zM60 611h1v1h-1zM282 611h1v1h-1zM556 611h1v1h-1zM791 611h2v1h-2zM59 612h1v1h-1zM286 612h1v1h-1zM58 613h1v1h-1zM287 613h2v1h-2zM552 614h1v1h-1zM796 614h2v1h-2zM53 615h2v1h-2zM292 615h2v1h-2zM551 615h1v1h-1zM798 615h1v1h-1zM52 616h1v1h-1zM294 616h1v1h-1zM550 616h1v1h-1zM802 617h2v1h-2zM48 618h1v1h-1zM298 618h3v1h-3zM804 618h1v1h-1zM904 618h3v1h-3zM910 618h3v1h-3zM916 618h3v1h-3zM47 619h1v1h-1zM546 619h1v1h-1zM808 619h1v1h-1zM882 619h1v1h-1zM886 619h3v1h-3zM892 619h3v1h-3zM898 619h3v1h-3zM922 619h3v1h-3zM928 619h3v1h-3zM46 620h1v1h-1zM304 620h2v1h-2zM545 620h1v1h-1zM809 620h2v1h-2zM874 620h3v1h-3zM880 620h2v1h-2zM934 620h1v1h-1zM42 621h1v1h-1zM306 621h1v1h-1zM544 621h1v1h-1zM868 621h3v1h-3zM935 621h2v1h-2zM40 622h2v1h-2zM310 622h1v1h-1zM814 622h3v1h-3zM862 622h3v1h-3zM940 622h3v1h-3zM35 623h2v1h-2zM311 623h2v1h-2zM820 623h3v1h-3zM856 623h3v1h-3zM946 623h2v1h-2zM34 624h1v1h-1zM539 624h2v1h-2zM826 624h3v1h-3zM832 624h3v1h-3zM838 624h3v1h-3zM844 624h3v1h-3zM850 624h3v1h-3zM948 624h1v1h-1zM28 625h3v1h-3zM316 625h2v1h-2zM538 625h1v1h-1zM952 625h3v1h-3zM23 626h2v1h-2zM318 626h1v1h-1zM958 626h2v1h-2zM22 627h1v1h-1zM322 627h1v1h-1zM533 627h2v1h-2zM960 627h1v1h-1zM16 628h3v1h-3zM323 628h2v1h-2zM532 628h1v1h-1zM964 628h2v1h-2zM10 629h3v1h-3zM966 629h1v1h-1zM6 630h1v1h-1zM328 630h3v1h-3zM527 630h2v1h-2zM970 630h2v1h-2zM4 631h2v1h-2zM526 631h1v1h-1zM972 631h1v1h-1zM334 632h3v1h-3zM976 632h1v1h-1zM340 633h2v1h-2zM521 633h2v1h-2zM977 633h2v1h-2zM342 634h1v1h-1zM346 634h1v1h-1zM515 634h2v1h-2zM520 634h1v1h-1zM982 634h3v1h-3zM347 635h2v1h-2zM352 635h2v1h-2zM504 635h1v1h-1zM508 635h3v1h-3zM514 635h1v1h-1zM988 635h1v1h-1zM354 636h1v1h-1zM358 636h3v1h-3zM490 636h3v1h-3zM496 636h3v1h-3zM502 636h2v1h-2zM989 636h2v1h-2zM364 637h3v1h-3zM370 637h3v1h-3zM389 637h2v1h-2zM394 637h3v1h-3zM400 637h3v1h-3zM406 637h3v1h-3zM412 637h3v1h-3zM418 637h3v1h-3zM424 637h3v1h-3zM430 637h3v1h-3zM436 637h3v1h-3zM442 637h3v1h-3zM448 637h3v1h-3zM454 637h3v1h-3zM460 637h3v1h-3zM466 637h3v1h-3zM472 637h3v1h-3zM478 637h3v1h-3zM484 637h3v1h-3zM994 637h1v1h-1zM376 638h3v1h-3zM382 638h3v1h-3zM388 638h1v1h-1zM995 638h2v1h-2zM1000 639h1v1h-1zM1001 640h2v1h-2zM1006 641h2v1h-2zM1008 642h1v1h-1zM1012 643h3v1h-3zM1018 644h3v1h-3zM1024 645h3v1h-3zM1030 645h2v1h-2zM1032 646h1v1h-1zM1036 646h3v1h-3zM1042 647h3v1h-3zM1048 647h1v1h-1zM1049 648h2v1h-2zM1054 648h3v1h-3zM1060 649h3v1h-3zM1066 650h3v1h-3zM1072 651h3v1h-3zM1078 652h3v1h-3zM1084 653h3v1h-3zM1090 654h1v1h-1zM1091 655h2v1h-2zM1096 656h1v1h-1zM1097 657h2v1h-2zM1102 658h3v1h-3zM1108 658h2v1h-2zM1110 659h1v1h-1zM1114 659h3v1h-3zM1132 659h3v1h-3zM1138 659h3v1h-3zM1120 660h3v1h-3zM1126 660h3v1h-3z" fill="#ff0000"/>
</g>
<text x="8" y="578" font-size="10" fill="#000" stroke="#000" stroke-width="0.25" textLength="153.5" lengthAdjust="spacingAndGlyphs" >MACD(12,26,9) -0.017620 -0.023331</text>
<rect x="1420" y="567" width="2" height="1" fill="#000" />
<text x="1424" y="576" font-size="10" fill="#000" stroke="#000" stroke-width="0.25" textLength="37" lengthAdjust="spacingAndGlyphs" >0.060273</text>
<rect x="1420" y="633" width="2" height="1" fill="#000" />
<text x="1424" y="637" font-size="10" fill="#000" stroke="#000" stroke-width="0.25" textLength="17" lengthAdjust="spacingAndGlyphs" >0.00</text>
<rect x="1420" y="668" width="2" height="1" fill="#000" />
<text x="1424" y="666" font-size="10" fill="#000" stroke="#000" stroke-width="0.25" textLength="39" lengthAdjust="spacingAndGlyphs" >-0.031725</text>
<g clip-path="url(#crsi)">
<line x1="5" y1="711.5" x2="1419" y2="711.5" stroke="#c0c0c0" stroke-width="1" stroke-dasharray="3,3"/>
<line x1="5" y1="762.5" x2="1419" y2="762.5" stroke="#c0c0c0" stroke-width="1" stroke-dasharray="3,3"/>
<path d="M532 688h1v1h-1zM531 689h2v1h-2zM531 690h1v1h-1zM533 690h1v1h-1zM530 691h1v1h-1zM533 691h1v1h-1zM530 692h1v1h-1zM533 692h1v1h-1zM529 693h1v1h-1zM534 693h1v1h-1zM52 694h1v1h-1zM529 694h1v1h-1zM534 694h1v1h-1zM51 695h1v1h-1zM53 695h2v1h-2zM80 695h5v1h-5zM528 695h1v1h-1zM534 695h1v1h-1zM50 696h1v1h-1zM55 696h1v1h-1zM75 696h5v1h-5zM85 696h1v1h-1zM528 696h1v1h-1zM535 696h1v1h-1zM49 697h1v1h-1zM56 697h2v1h-2zM72 697h3v1h-3zM86 697h2v1h-2zM527 697h1v1h-1zM535 697h1v1h-1zM48 698h1v1h-1zM58 698h2v1h-2zM70 698h2v1h-2zM88 698h1v1h-1zM527 698h1v1h-1zM535 698h1v1h-1zM48 699h1v1h-1zM60 699h10v1h-10zM89 699h1v1h-1zM526 699h1v1h-1zM536 699h1v1h-1zM47 700h1v1h-1zM90 700h2v1h-2zM526 700h1v1h-1zM536 700h1v1h-1zM46 701h1v1h-1zM92 701h2v1h-2zM106 701h3v1h-3zM525 701h1v1h-1zM536 701h1v1h-1zM45 702h1v1h-1zM94 702h4v1h-4zM102 702h4v1h-4zM109 702h2v1h-2zM525 702h1v1h-1zM537 702h1v1h-1zM42 703h3v1h-3zM98 703h4v1h-4zM111 703h1v1h-1zM522 703h3v1h-3zM537 703h1v1h-1zM38 704h4v1h-4zM112 704h2v1h-2zM518 704h4v1h-4zM537 704h1v1h-1zM36 705h2v1h-2zM114 705h2v1h-2zM516 705h2v1h-2zM538 705h1v1h-1zM34 706h2v1h-2zM116 706h1v1h-1zM516 706h1v1h-1zM538 706h1v1h-1zM33 707h1v1h-1zM117 707h1v1h-1zM515 707h1v1h-1zM538 707h1v1h-1zM568 707h5v1h-5zM651 707h5v1h-5zM32 708h1v1h-1zM118 708h2v1h-2zM154 708h4v1h-4zM515 708h1v1h-1zM539 708h1v1h-1zM547 708h5v1h-5zM560 708h8v1h-8zM572 708h1v1h-1zM649 708h2v1h-2zM656 708h13v1h-13zM30 709h2v1h-2zM120 709h1v1h-1zM150 709h4v1h-4zM158 709h4v1h-4zM514 709h1v1h-1zM539 709h1v1h-1zM545 709h2v1h-2zM552 709h8v1h-8zM573 709h1v1h-1zM647 709h2v1h-2zM669 709h1v1h-1zM692 709h1v1h-1zM29 710h1v1h-1zM121 710h1v1h-1zM146 710h4v1h-4zM162 710h3v1h-3zM514 710h1v1h-1zM539 710h1v1h-1zM543 710h2v1h-2zM573 710h1v1h-1zM645 710h2v1h-2zM670 710h1v1h-1zM690 710h2v1h-2zM693 710h2v1h-2zM27 711h2v1h-2zM122 711h2v1h-2zM142 711h4v1h-4zM165 711h1v1h-1zM208 711h5v1h-5zM513 711h1v1h-1zM540 711h3v1h-3zM574 711h1v1h-1zM644 711h1v1h-1zM671 711h1v1h-1zM688 711h2v1h-2zM695 711h1v1h-1zM24 712h3v1h-3zM124 712h2v1h-2zM138 712h4v1h-4zM166 712h1v1h-1zM203 712h5v1h-5zM213 712h1v1h-1zM513 712h1v1h-1zM540 712h1v1h-1zM574 712h1v1h-1zM643 712h1v1h-1zM672 712h1v1h-1zM687 712h1v1h-1zM696 712h2v1h-2zM22 713h2v1h-2zM126 713h4v1h-4zM134 713h4v1h-4zM167 713h1v1h-1zM200 713h3v1h-3zM213 713h1v1h-1zM512 713h1v1h-1zM574 713h1v1h-1zM642 713h1v1h-1zM672 713h1v1h-1zM685 713h2v1h-2zM698 713h2v1h-2zM18 714h4v1h-4zM130 714h4v1h-4zM168 714h1v1h-1zM198 714h2v1h-2zM214 714h1v1h-1zM512 714h1v1h-1zM575 714h1v1h-1zM640 714h2v1h-2zM673 714h1v1h-1zM683 714h2v1h-2zM700 714h1v1h-1zM14 715h4v1h-4zM169 715h1v1h-1zM192 715h6v1h-6zM215 715h1v1h-1zM512 715h1v1h-1zM575 715h1v1h-1zM639 715h1v1h-1zM674 715h1v1h-1zM680 715h3v1h-3zM701 715h1v1h-1zM12 716h2v1h-2zM170 716h1v1h-1zM184 716h8v1h-8zM215 716h1v1h-1zM511 716h1v1h-1zM575 716h1v1h-1zM638 716h1v1h-1zM675 716h1v1h-1zM678 716h2v1h-2zM702 716h1v1h-1zM12 717h1v1h-1zM171 717h1v1h-1zM176 717h8v1h-8zM216 717h1v1h-1zM511 717h1v1h-1zM576 717h1v1h-1zM637 717h1v1h-1zM676 717h2v1h-2zM703 717h1v1h-1zM11 718h1v1h-1zM172 718h4v1h-4zM217 718h1v1h-1zM510 718h1v1h-1zM576 718h1v1h-1zM635 718h2v1h-2zM704 718h1v1h-1zM11 719h1v1h-1zM217 719h1v1h-1zM242 719h4v1h-4zM510 719h1v1h-1zM577 719h1v1h-1zM633 719h2v1h-2zM705 719h1v1h-1zM10 720h1v1h-1zM218 720h1v1h-1zM238 720h4v1h-4zM246 720h4v1h-4zM509 720h1v1h-1zM577 720h1v1h-1zM631 720h2v1h-2zM706 720h1v1h-1zM10 721h1v1h-1zM219 721h1v1h-1zM226 721h12v1h-12zM250 721h3v1h-3zM509 721h1v1h-1zM577 721h1v1h-1zM611 721h13v1h-13zM629 721h2v1h-2zM707 721h1v1h-1zM9 722h1v1h-1zM219 722h1v1h-1zM222 722h4v1h-4zM252 722h1v1h-1zM508 722h1v1h-1zM578 722h1v1h-1zM608 722h3v1h-3zM624 722h5v1h-5zM708 722h2v1h-2zM9 723h1v1h-1zM220 723h2v1h-2zM253 723h1v1h-1zM508 723h1v1h-1zM578 723h1v1h-1zM588 723h4v1h-4zM606 723h2v1h-2zM710 723h2v1h-2zM844 723h2v1h-2zM858 723h11v1h-11zM900 723h4v1h-4zM8 724h1v1h-1zM253 724h1v1h-1zM507 724h1v1h-1zM578 724h1v1h-1zM586 724h2v1h-2zM592 724h14v1h-14zM712 724h3v1h-3zM842 724h2v1h-2zM846 724h4v1h-4zM854 724h4v1h-4zM869 724h1v1h-1zM898 724h2v1h-2zM904 724h5v1h-5zM8 725h1v1h-1zM254 725h1v1h-1zM506 725h1v1h-1zM579 725h1v1h-1zM584 725h2v1h-2zM715 725h2v1h-2zM840 725h2v1h-2zM850 725h4v1h-4zM870 725h1v1h-1zM896 725h2v1h-2zM909 725h1v1h-1zM7 726h1v1h-1zM254 726h1v1h-1zM505 726h1v1h-1zM579 726h1v1h-1zM583 726h1v1h-1zM717 726h1v1h-1zM839 726h1v1h-1zM871 726h1v1h-1zM895 726h1v1h-1zM909 726h1v1h-1zM7 727h1v1h-1zM255 727h1v1h-1zM504 727h1v1h-1zM580 727h3v1h-3zM718 727h1v1h-1zM837 727h2v1h-2zM872 727h2v1h-2zM893 727h2v1h-2zM910 727h1v1h-1zM6 728h1v1h-1zM255 728h1v1h-1zM504 728h1v1h-1zM580 728h1v1h-1zM719 728h1v1h-1zM827 728h10v1h-10zM874 728h1v1h-1zM892 728h1v1h-1zM910 728h1v1h-1zM6 729h1v1h-1zM255 729h1v1h-1zM503 729h1v1h-1zM720 729h1v1h-1zM825 729h2v1h-2zM875 729h1v1h-1zM891 729h1v1h-1zM911 729h1v1h-1zM5 730h1v1h-1zM256 730h1v1h-1zM492 730h2v1h-2zM502 730h1v1h-1zM720 730h1v1h-1zM731 730h3v1h-3zM803 730h3v1h-3zM823 730h2v1h-2zM876 730h1v1h-1zM890 730h1v1h-1zM911 730h1v1h-1zM5 731h1v1h-1zM256 731h1v1h-1zM491 731h1v1h-1zM494 731h4v1h-4zM501 731h1v1h-1zM721 731h1v1h-1zM729 731h2v1h-2zM734 731h2v1h-2zM800 731h3v1h-3zM806 731h4v1h-4zM821 731h2v1h-2zM877 731h1v1h-1zM889 731h1v1h-1zM912 731h1v1h-1zM4 732h1v1h-1zM257 732h1v1h-1zM490 732h1v1h-1zM498 732h3v1h-3zM722 732h1v1h-1zM727 732h2v1h-2zM736 732h3v1h-3zM798 732h2v1h-2zM810 732h11v1h-11zM878 732h1v1h-1zM888 732h1v1h-1zM912 732h1v1h-1zM257 733h1v1h-1zM488 733h2v1h-2zM723 733h1v1h-1zM725 733h2v1h-2zM739 733h2v1h-2zM795 733h3v1h-3zM879 733h1v1h-1zM888 733h1v1h-1zM913 733h1v1h-1zM257 734h1v1h-1zM364 734h2v1h-2zM378 734h3v1h-3zM487 734h1v1h-1zM724 734h1v1h-1zM741 734h2v1h-2zM792 734h3v1h-3zM880 734h2v1h-2zM887 734h1v1h-1zM913 734h1v1h-1zM258 735h1v1h-1zM363 735h1v1h-1zM366 735h4v1h-4zM374 735h4v1h-4zM381 735h1v1h-1zM486 735h1v1h-1zM743 735h1v1h-1zM790 735h2v1h-2zM882 735h1v1h-1zM886 735h1v1h-1zM914 735h1v1h-1zM258 736h1v1h-1zM362 736h1v1h-1zM370 736h4v1h-4zM382 736h1v1h-1zM456 736h5v1h-5zM485 736h1v1h-1zM744 736h2v1h-2zM786 736h4v1h-4zM883 736h1v1h-1zM885 736h1v1h-1zM914 736h1v1h-1zM259 737h1v1h-1zM361 737h1v1h-1zM383 737h1v1h-1zM444 737h12v1h-12zM461 737h1v1h-1zM484 737h1v1h-1zM746 737h2v1h-2zM782 737h4v1h-4zM884 737h1v1h-1zM915 737h1v1h-1zM259 738h1v1h-1zM360 738h1v1h-1zM384 738h1v1h-1zM419 738h3v1h-3zM442 738h2v1h-2zM462 738h2v1h-2zM482 738h2v1h-2zM748 738h1v1h-1zM779 738h3v1h-3zM915 738h1v1h-1zM260 739h1v1h-1zM340 739h9v1h-9zM360 739h1v1h-1zM384 739h1v1h-1zM402 739h4v1h-4zM417 739h2v1h-2zM422 739h4v1h-4zM440 739h2v1h-2zM464 739h1v1h-1zM481 739h1v1h-1zM749 739h2v1h-2zM777 739h2v1h-2zM916 739h1v1h-1zM947 739h2v1h-2zM260 740h4v1h-4zM339 740h1v1h-1zM349 740h2v1h-2zM359 740h1v1h-1zM385 740h1v1h-1zM398 740h4v1h-4zM406 740h2v1h-2zM415 740h2v1h-2zM426 740h4v1h-4zM439 740h1v1h-1zM465 740h1v1h-1zM480 740h1v1h-1zM751 740h1v1h-1zM775 740h2v1h-2zM916 740h1v1h-1zM945 740h2v1h-2zM949 740h2v1h-2zM1138 740h3v1h-3zM264 741h5v1h-5zM299 741h10v1h-10zM339 741h1v1h-1zM351 741h2v1h-2zM358 741h1v1h-1zM386 741h1v1h-1zM394 741h4v1h-4zM408 741h3v1h-3zM413 741h2v1h-2zM430 741h4v1h-4zM437 741h2v1h-2zM466 741h2v1h-2zM478 741h2v1h-2zM752 741h2v1h-2zM773 741h2v1h-2zM917 741h1v1h-1zM943 741h2v1h-2zM951 741h1v1h-1zM1134 741h4v1h-4zM269 742h1v1h-1zM297 742h2v1h-2zM309 742h2v1h-2zM338 742h1v1h-1zM353 742h2v1h-2zM357 742h1v1h-1zM387 742h1v1h-1zM390 742h4v1h-4zM411 742h2v1h-2zM434 742h3v1h-3zM468 742h4v1h-4zM477 742h1v1h-1zM754 742h2v1h-2zM772 742h1v1h-1zM918 742h2v1h-2zM941 742h2v1h-2zM952 742h2v1h-2zM1132 742h2v1h-2zM269 743h1v1h-1zM295 743h2v1h-2zM311 743h1v1h-1zM338 743h1v1h-1zM355 743h2v1h-2zM388 743h2v1h-2zM472 743h5v1h-5zM756 743h1v1h-1zM770 743h2v1h-2zM920 743h1v1h-1zM940 743h1v1h-1zM954 743h2v1h-2zM1107 743h2v1h-2zM1131 743h1v1h-1zM270 744h1v1h-1zM293 744h2v1h-2zM312 744h2v1h-2zM337 744h1v1h-1zM757 744h2v1h-2zM768 744h2v1h-2zM921 744h1v1h-1zM938 744h2v1h-2zM956 744h4v1h-4zM995 744h2v1h-2zM1104 744h3v1h-3zM1109 744h2v1h-2zM1130 744h1v1h-1zM271 745h1v1h-1zM292 745h1v1h-1zM314 745h2v1h-2zM336 745h1v1h-1zM759 745h2v1h-2zM767 745h1v1h-1zM922 745h2v1h-2zM936 745h2v1h-2zM960 745h8v1h-8zM976 745h6v1h-6zM993 745h2v1h-2zM997 745h1v1h-1zM1012 745h9v1h-9zM1102 745h2v1h-2zM1111 745h2v1h-2zM1129 745h1v1h-1zM271 746h1v1h-1zM290 746h2v1h-2zM316 746h4v1h-4zM336 746h1v1h-1zM761 746h2v1h-2zM765 746h2v1h-2zM924 746h2v1h-2zM935 746h1v1h-1zM968 746h8v1h-8zM982 746h2v1h-2zM991 746h2v1h-2zM998 746h2v1h-2zM1010 746h2v1h-2zM1021 746h2v1h-2zM1100 746h2v1h-2zM1113 746h2v1h-2zM1128 746h1v1h-1zM272 747h1v1h-1zM288 747h2v1h-2zM320 747h5v1h-5zM335 747h1v1h-1zM763 747h2v1h-2zM926 747h4v1h-4zM933 747h2v1h-2zM984 747h3v1h-3zM989 747h2v1h-2zM1000 747h1v1h-1zM1008 747h2v1h-2zM1023 747h1v1h-1zM1098 747h2v1h-2zM1115 747h2v1h-2zM1128 747h1v1h-1zM273 748h1v1h-1zM287 748h1v1h-1zM325 748h2v1h-2zM334 748h1v1h-1zM930 748h3v1h-3zM987 748h2v1h-2zM1001 748h1v1h-1zM1007 748h1v1h-1zM1024 748h2v1h-2zM1096 748h2v1h-2zM1117 748h2v1h-2zM1127 748h1v1h-1zM273 749h1v1h-1zM285 749h2v1h-2zM327 749h1v1h-1zM334 749h1v1h-1zM1002 749h2v1h-2zM1005 749h2v1h-2zM1026 749h2v1h-2zM1095 749h1v1h-1zM1119 749h2v1h-2zM1126 749h1v1h-1zM274 750h1v1h-1zM283 750h2v1h-2zM328 750h2v1h-2zM333 750h1v1h-1zM1004 750h1v1h-1zM1028 750h4v1h-4zM1093 750h2v1h-2zM1121 750h2v1h-2zM1125 750h1v1h-1zM275 751h1v1h-1zM280 751h3v1h-3zM330 751h2v1h-2zM333 751h1v1h-1zM1032 751h8v1h-8zM1092 751h1v1h-1zM1123 751h2v1h-2zM275 752h1v1h-1zM278 752h2v1h-2zM332 752h1v1h-1zM1040 752h5v1h-5zM1090 752h2v1h-2zM276 753h2v1h-2zM1045 753h2v1h-2zM1089 753h1v1h-1zM1047 754h2v1h-2zM1088 754h1v1h-1zM1049 755h2v1h-2zM1086 755h2v1h-2zM1051 756h2v1h-2zM1068 756h1v1h-1zM1085 756h1v1h-1zM1053 757h1v1h-1zM1066 757h2v1h-2zM1069 757h1v1h-1zM1084 757h1v1h-1zM1054 758h2v1h-2zM1065 758h1v1h-1zM1070 758h1v1h-1zM1083 758h1v1h-1zM1056 759h1v1h-1zM1064 759h1v1h-1zM1071 759h1v1h-1zM1082 759h1v1h-1zM1057 760h1v1h-1zM1062 760h2v1h-2zM1072 760h1v1h-1zM1080 760h2v1h-2zM1058 761h2v1h-2zM1061 761h1v1h-1zM1073 761h1v1h-1zM1079 761h1v1h-1zM1060 762h1v1h-1zM1074 762h1v1h-1zM1078 762h1v1h-1zM1075 763h1v1h-1zM1077 763h1v1h-1zM1076 764h1v1h-1z" fill="#1e90ff"/>
<polygon points="4,796 4,801 9,801" fill="#c8c8c8"/>
</g>
<text x="8" y="684" font-size="10" fill="#000" stroke="#000" stroke-width="0.25" textLength="68" lengthAdjust="spacingAndGlyphs" >RSI(14) 47.1289</text>
<rect x="1420" y="673" width="2" height="1" fill="#000" />
<text x="1424" y="683" font-size="10" fill="#000" stroke="#000" stroke-width="0.25" textLength="17" lengthAdjust="spacingAndGlyphs" >100</text>
<rect x="1420" y="711" width="2" height="1" fill="#000" />
<text x="1424" y="715" font-size="10" fill="#000" stroke="#000" stroke-width="0.25" textLength="11.5" lengthAdjust="spacingAndGlyphs" >70</text>
<rect x="1420" y="762" width="2" height="1" fill="#000" />
<text x="1424" y="766" font-size="10" fill="#000" stroke="#000" stroke-width="0.25" textLength="11.5" lengthAdjust="spacingAndGlyphs" >30</text>
<rect x="1420" y="800" width="2" height="1" fill="#000" />
<text x="1424" y="798" font-size="10" fill="#000" stroke="#000" stroke-width="0.25" textLength="5.5" lengthAdjust="spacingAndGlyphs" >0</text>
<rect x="4" y="802" width="1" height="3" fill="#000" />
<text x="3.4" y="814" font-size="10" fill="#000" stroke="#000" stroke-width="0.25" textLength="49" lengthAdjust="spacingAndGlyphs" >3 May 2019</text>
<rect x="68" y="802" width="1" height="3" fill="#000" />
<text x="67.4" y="814" font-size="10" fill="#000" stroke="#000" stroke-width="0.25" textLength="54" lengthAdjust="spacingAndGlyphs" >15 May 2019</text>
<rect x="132" y="802" width="1" height="3" fill="#000" />
<text x="131.4" y="814" font-size="10" fill="#000" stroke="#000" stroke-width="0.25" textLength="54.5" lengthAdjust="spacingAndGlyphs" >27 May 2019</text>
<rect x="196" y="802" width="1" height="3" fill="#000" />
<text x="195.4" y="814" font-size="10" fill="#000" stroke="#000" stroke-width="0.25" textLength="44.6" lengthAdjust="spacingAndGlyphs" >6 Jun 2019</text>
<rect x="260" y="802" width="1" height="3" fill="#000" />
<text x="259.4" y="814" font-size="10" fill="#000" stroke="#000" stroke-width="0.25" textLength="53" lengthAdjust="spacingAndGlyphs" >18 Jun 2019</text>
<rect x="324" y="802" width="1" height="3" fill="#000" />
<text x="323.4" y="814" font-size="10" fill="#000" stroke="#000" stroke-width="0.25" textLength="50" lengthAdjust="spacingAndGlyphs" >28 Jun 2019</text>
<rect x="388" y="802" width="1" height="3" fill="#000" />
<text x="387.4" y="814" font-size="10" fill="#000" stroke="#000" stroke-width="0.25" textLength="46.7" lengthAdjust="spacingAndGlyphs" >10 Jul 2019</text>
<rect x="452" y="802" width="1" height="3" fill="#000" />
<text x="451.4" y="814" font-size="10" fill="#000" stroke="#000" stroke-width="0.25" textLength="47" lengthAdjust="spacingAndGlyphs" >22 Jul 2019</text>
<rect x="516" y="802" width="1" height="3" fill="#000" />
<text x="515.4" y="814" font-size="10" fill="#000" stroke="#000" stroke-width="0.25" textLength="47.6" lengthAdjust="spacingAndGlyphs" >1 Aug 2019</text>
<rect x="580" y="802" width="1" height="3" fill="#000" />
<text x="579.4" y="814" font-size="10" fill="#000" stroke="#000" stroke-width="0.25" textLength="52.6" lengthAdjust="spacingAndGlyphs" >13 Aug 2019</text>
<rect x="644" y="802" width="1" height="3" fill="#000" />
<text x="643.4" y="814" font-size="10" fill="#000" stroke="#000" stroke-width="0.25" textLength="52.6" lengthAdjust="spacingAndGlyphs" >23 Aug 2019</text>
<rect x="708" y="802" width="1" height="3" fill="#000" />
<text x="707.4" y="814" font-size="10" fill="#000" stroke="#000" stroke-width="0.25" textLength="46.6" lengthAdjust="spacingAndGlyphs" >4 Sep 2019</text>
<rect x="772" y="802" width="1" height="3" fill="#000" />
<text x="771.4" y="814" font-size="10" fill="#000" stroke="#000" stroke-width="0.25" textLength="51.5" lengthAdjust="spacingAndGlyphs" >16 Sep 2019</text>
<rect x="836" y="802" width="1" height="3" fill="#000" />
<text x="835.4" y="814" font-size="10" fill="#000" stroke="#000" stroke-width="0.25" textLength="51" lengthAdjust="spacingAndGlyphs" >26 Sep 2019</text>
<rect x="900" y="802" width="1" height="3" fill="#000" />
<text x="899.4" y="814" font-size="10" fill="#000" stroke="#000" stroke-width="0.25" textLength="46" lengthAdjust="spacingAndGlyphs" >8 Oct 2019</text>
<rect x="964" y="802" width="1" height="3" fill="#000" />
<text x="963.4" y="814" font-size="10" fill="#000" stroke="#000" stroke-width="0.25" textLength="51" lengthAdjust="spacingAndGlyphs" >18 Oct 2019</text>
<rect x="1028" y="802" width="1" height="3" fill="#000" />
<text x="1027.4" y="814" font-size="10" fill="#000" stroke="#000" stroke-width="0.25" textLength="51" lengthAdjust="spacingAndGlyphs" >30 Oct 2019</text>
<rect x="1092" y="802" width="1" height="3" fill="#000" />
<text x="1091.4" y="814" font-size="10" fill="#000" stroke="#000" stroke-width="0.25" textLength="53.7" lengthAdjust="spacingAndGlyphs" >11 Nov 2019</text>
<rect x="0" y="822" width="1462" height="1" fill="#e3e3e3" />
<rect x="0" y="823" width="1462" height="1" fill="#ffffff" />
<rect x="0" y="824" width="1462" height="1" fill="#000000" />
<rect x="0" y="825" width="1462" height="19" fill="#f0f0f0" />
<rect x="0" y="844" width="1462" height="2" fill="#fafafa" />
<rect x="437" y="824" width="112" height="19" fill="#ffffff" />
<rect x="437" y="824" width="1" height="19" fill="#000" />
<rect x="548" y="824" width="1" height="19" fill="#000" />
<rect x="437" y="842" width="112" height="1" fill="#000" />
<rect x="438" y="843" width="112" height="1" fill="#a0a0a0" />
<rect x="549" y="825" width="1" height="19" fill="#a0a0a0" />
<text x="16" y="838.5" font-size="12" fill="#5c5c5c" textLength="85" lengthAdjust="spacingAndGlyphs" >EURUSD-,Daily</text>
<text x="123" y="838.5" font-size="12" fill="#5c5c5c" textLength="87" lengthAdjust="spacingAndGlyphs" >AUDUSD-,Daily</text>
<text x="233" y="838.5" font-size="12" fill="#5c5c5c" textLength="84" lengthAdjust="spacingAndGlyphs" >USDCHF-,Daily</text>
<text x="340" y="838.5" font-size="12" fill="#5c5c5c" textLength="86" lengthAdjust="spacingAndGlyphs" >USDCAD-,Daily</text>
<text x="449.5" y="838.5" font-size="12" fill="#000" textLength="87.5" lengthAdjust="spacingAndGlyphs" >USDCNH-,Daily</text>
<text x="560.5" y="838.5" font-size="12" fill="#5c5c5c" textLength="96.5" lengthAdjust="spacingAndGlyphs" >EURCHF-,Weekly</text>
<text x="681" y="838.5" font-size="12" fill="#5c5c5c" textLength="99.7" lengthAdjust="spacingAndGlyphs" >XAUUSD-,Weekly</text>
<text x="804" y="838.5" font-size="12" fill="#5c5c5c" textLength="72" lengthAdjust="spacingAndGlyphs" >GBPUSD-,H1</text>
<text x="900" y="838.5" font-size="12" fill="#5c5c5c" textLength="56" lengthAdjust="spacingAndGlyphs" >UKOil-,H1</text>
<text x="978.9" y="838.5" font-size="12" fill="#5c5c5c" textLength="83.1" lengthAdjust="spacingAndGlyphs" >USDX-,Weekly</text>
<text x="1083" y="838.5" font-size="12" fill="#5c5c5c" textLength="71" lengthAdjust="spacingAndGlyphs" >EURCHF-,H1</text>
<text x="1177" y="838.5" font-size="12" fill="#5c5c5c" textLength="68" lengthAdjust="spacingAndGlyphs" >USOil-,Daily</text>
<rect x="113" y="828" width="1" height="13" fill="#6a6a6a" />
<rect x="221" y="828" width="1" height="13" fill="#6a6a6a" />
<rect x="329" y="828" width="1" height="13" fill="#6a6a6a" />
<rect x="669" y="828" width="1" height="13" fill="#6a6a6a" />
<rect x="793" y="828" width="1" height="13" fill="#6a6a6a" />
<rect x="889" y="828" width="1" height="13" fill="#6a6a6a" />
<rect x="969" y="828" width="1" height="13" fill="#6a6a6a" />
<rect x="1073" y="828" width="1" height="13" fill="#6a6a6a" />
<rect x="1166" y="828" width="1" height="13" fill="#6a6a6a" />
<rect x="1257" y="828" width="1" height="13" fill="#6a6a6a" />
<polygon points="1438.5,829.5 1438.5,836.5 1434.5,833" fill="#8c8c8c" shape-rendering="auto"/>
<polygon points="1453.5,829.5 1453.5,836.5 1457.5,833" fill="#8c8c8c" shape-rendering="auto"/>
</svg>
</body></html>
